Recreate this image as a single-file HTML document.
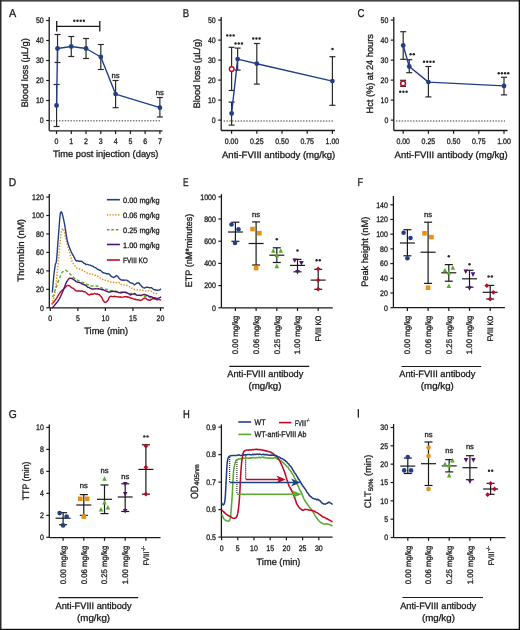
<!DOCTYPE html>
<html><head><meta charset="utf-8"><style>
html,body{margin:0;padding:0;background:#fff;overflow:hidden;width:520px;height:630px;}
svg{display:block;font-family:"Liberation Sans",sans-serif;will-change:transform;}
text{stroke:#1a1a1a;stroke-width:0.3px;text-rendering:geometricPrecision;}
</style></head><body>
<svg width="520" height="630" viewBox="0 0 520 630">
<rect x="0" y="0" width="520" height="630" fill="#ffffff"/>
<text x="12.60" y="16.90" font-size="11.4" text-anchor="middle" fill="#1a1a1a" textLength="7.2" lengthAdjust="spacingAndGlyphs" >A</text>
<line x1="49.20" y1="17.00" x2="49.20" y2="130.80" stroke="#1a1a1a" stroke-width="1.3" />
<line x1="46.20" y1="120.50" x2="49.20" y2="120.50" stroke="#1a1a1a" stroke-width="1.2" />
<text x="43.70" y="123.35" font-size="8.0" text-anchor="end" fill="#1a1a1a" textLength="3.89" lengthAdjust="spacingAndGlyphs" >0</text>
<line x1="46.20" y1="100.50" x2="49.20" y2="100.50" stroke="#1a1a1a" stroke-width="1.2" />
<text x="43.70" y="103.35" font-size="8.0" text-anchor="end" fill="#1a1a1a" textLength="7.78" lengthAdjust="spacingAndGlyphs" >10</text>
<line x1="46.20" y1="80.50" x2="49.20" y2="80.50" stroke="#1a1a1a" stroke-width="1.2" />
<text x="43.70" y="83.35" font-size="8.0" text-anchor="end" fill="#1a1a1a" textLength="7.78" lengthAdjust="spacingAndGlyphs" >20</text>
<line x1="46.20" y1="60.50" x2="49.20" y2="60.50" stroke="#1a1a1a" stroke-width="1.2" />
<text x="43.70" y="63.35" font-size="8.0" text-anchor="end" fill="#1a1a1a" textLength="7.78" lengthAdjust="spacingAndGlyphs" >30</text>
<line x1="46.20" y1="40.50" x2="49.20" y2="40.50" stroke="#1a1a1a" stroke-width="1.2" />
<text x="43.70" y="43.35" font-size="8.0" text-anchor="end" fill="#1a1a1a" textLength="7.78" lengthAdjust="spacingAndGlyphs" >40</text>
<line x1="46.20" y1="20.50" x2="49.20" y2="20.50" stroke="#1a1a1a" stroke-width="1.2" />
<text x="43.70" y="23.35" font-size="8.0" text-anchor="end" fill="#1a1a1a" textLength="7.78" lengthAdjust="spacingAndGlyphs" >50</text>
<line x1="49.20" y1="130.80" x2="162.50" y2="130.80" stroke="#1a1a1a" stroke-width="1.3" />
<line x1="56.50" y1="130.80" x2="56.50" y2="134.00" stroke="#1a1a1a" stroke-width="1.2" />
<text x="56.50" y="144.20" font-size="8.0" text-anchor="middle" fill="#1a1a1a" textLength="3.89" lengthAdjust="spacingAndGlyphs" >0</text>
<line x1="71.27" y1="130.80" x2="71.27" y2="134.00" stroke="#1a1a1a" stroke-width="1.2" />
<text x="71.27" y="144.20" font-size="8.0" text-anchor="middle" fill="#1a1a1a" textLength="3.89" lengthAdjust="spacingAndGlyphs" >1</text>
<line x1="86.04" y1="130.80" x2="86.04" y2="134.00" stroke="#1a1a1a" stroke-width="1.2" />
<text x="86.04" y="144.20" font-size="8.0" text-anchor="middle" fill="#1a1a1a" textLength="3.89" lengthAdjust="spacingAndGlyphs" >2</text>
<line x1="100.81" y1="130.80" x2="100.81" y2="134.00" stroke="#1a1a1a" stroke-width="1.2" />
<text x="100.81" y="144.20" font-size="8.0" text-anchor="middle" fill="#1a1a1a" textLength="3.89" lengthAdjust="spacingAndGlyphs" >3</text>
<line x1="115.58" y1="130.80" x2="115.58" y2="134.00" stroke="#1a1a1a" stroke-width="1.2" />
<text x="115.58" y="144.20" font-size="8.0" text-anchor="middle" fill="#1a1a1a" textLength="3.89" lengthAdjust="spacingAndGlyphs" >4</text>
<line x1="130.35" y1="130.80" x2="130.35" y2="134.00" stroke="#1a1a1a" stroke-width="1.2" />
<text x="130.35" y="144.20" font-size="8.0" text-anchor="middle" fill="#1a1a1a" textLength="3.89" lengthAdjust="spacingAndGlyphs" >5</text>
<line x1="145.12" y1="130.80" x2="145.12" y2="134.00" stroke="#1a1a1a" stroke-width="1.2" />
<text x="145.12" y="144.20" font-size="8.0" text-anchor="middle" fill="#1a1a1a" textLength="3.89" lengthAdjust="spacingAndGlyphs" >6</text>
<line x1="159.89" y1="130.80" x2="159.89" y2="134.00" stroke="#1a1a1a" stroke-width="1.2" />
<text x="159.89" y="144.20" font-size="8.0" text-anchor="middle" fill="#1a1a1a" textLength="3.89" lengthAdjust="spacingAndGlyphs" >7</text>
<line x1="50.60" y1="120.80" x2="161.00" y2="120.80" stroke="#7a7a7a" stroke-width="1.5" stroke-dasharray="1.4 1.44"/>
<line x1="56.57" y1="84.50" x2="56.57" y2="126.50" stroke="#2a2a2a" stroke-width="1.2" />
<line x1="53.57" y1="84.50" x2="59.57" y2="84.50" stroke="#2a2a2a" stroke-width="1.2" />
<line x1="53.57" y1="126.50" x2="59.57" y2="126.50" stroke="#2a2a2a" stroke-width="1.2" />
<line x1="57.53" y1="34.50" x2="57.53" y2="62.50" stroke="#2a2a2a" stroke-width="1.2" />
<line x1="54.53" y1="34.50" x2="60.53" y2="34.50" stroke="#2a2a2a" stroke-width="1.2" />
<line x1="54.53" y1="62.50" x2="60.53" y2="62.50" stroke="#2a2a2a" stroke-width="1.2" />
<line x1="71.27" y1="36.50" x2="71.27" y2="56.50" stroke="#2a2a2a" stroke-width="1.2" />
<line x1="68.27" y1="36.50" x2="74.27" y2="36.50" stroke="#2a2a2a" stroke-width="1.2" />
<line x1="68.27" y1="56.50" x2="74.27" y2="56.50" stroke="#2a2a2a" stroke-width="1.2" />
<line x1="86.04" y1="38.50" x2="86.04" y2="58.50" stroke="#2a2a2a" stroke-width="1.2" />
<line x1="83.04" y1="38.50" x2="89.04" y2="38.50" stroke="#2a2a2a" stroke-width="1.2" />
<line x1="83.04" y1="58.50" x2="89.04" y2="58.50" stroke="#2a2a2a" stroke-width="1.2" />
<line x1="100.81" y1="44.50" x2="100.81" y2="69.50" stroke="#2a2a2a" stroke-width="1.2" />
<line x1="97.81" y1="44.50" x2="103.81" y2="44.50" stroke="#2a2a2a" stroke-width="1.2" />
<line x1="97.81" y1="69.50" x2="103.81" y2="69.50" stroke="#2a2a2a" stroke-width="1.2" />
<line x1="115.58" y1="80.50" x2="115.58" y2="107.70" stroke="#2a2a2a" stroke-width="1.2" />
<line x1="112.58" y1="80.50" x2="118.58" y2="80.50" stroke="#2a2a2a" stroke-width="1.2" />
<line x1="112.58" y1="107.70" x2="118.58" y2="107.70" stroke="#2a2a2a" stroke-width="1.2" />
<line x1="159.89" y1="97.50" x2="159.89" y2="117.00" stroke="#2a2a2a" stroke-width="1.2" />
<line x1="156.89" y1="97.50" x2="162.89" y2="97.50" stroke="#2a2a2a" stroke-width="1.2" />
<line x1="156.89" y1="117.00" x2="162.89" y2="117.00" stroke="#2a2a2a" stroke-width="1.2" />
<polyline points="56.57,105.50 57.53,48.50 71.27,46.50 86.04,48.50 100.81,57.00 115.58,94.10 159.89,107.70" fill="none" stroke="#223f85" stroke-width="1.4" stroke-linejoin="round" />
<circle cx="56.57" cy="105.50" r="2.4" fill="#223f85" stroke="none" stroke-width="0"/>
<circle cx="57.53" cy="48.50" r="2.4" fill="#223f85" stroke="none" stroke-width="0"/>
<circle cx="71.27" cy="46.50" r="2.4" fill="#223f85" stroke="none" stroke-width="0"/>
<circle cx="86.04" cy="48.50" r="2.4" fill="#223f85" stroke="none" stroke-width="0"/>
<circle cx="100.81" cy="57.00" r="2.4" fill="#223f85" stroke="none" stroke-width="0"/>
<circle cx="115.58" cy="94.10" r="2.4" fill="#223f85" stroke="none" stroke-width="0"/>
<circle cx="159.89" cy="107.70" r="2.4" fill="#223f85" stroke="none" stroke-width="0"/>
<line x1="56.70" y1="26.30" x2="99.80" y2="26.30" stroke="#1a1a1a" stroke-width="1.3" />
<line x1="56.70" y1="21.10" x2="56.70" y2="31.50" stroke="#1a1a1a" stroke-width="1.3" />
<line x1="99.80" y1="21.10" x2="99.80" y2="31.50" stroke="#1a1a1a" stroke-width="1.3" />
<circle cx="74.25" cy="20.80" r="1.22" fill="#262626" stroke="none" stroke-width="0"/>
<circle cx="77.45" cy="20.80" r="1.22" fill="#262626" stroke="none" stroke-width="0"/>
<circle cx="80.65" cy="20.80" r="1.22" fill="#262626" stroke="none" stroke-width="0"/>
<circle cx="83.85" cy="20.80" r="1.22" fill="#262626" stroke="none" stroke-width="0"/>
<text x="115.58" y="78.30" font-size="7.6" text-anchor="middle" fill="#1a1a1a" >ns</text>
<text x="159.89" y="95.00" font-size="7.6" text-anchor="middle" fill="#1a1a1a" >ns</text>
<text x="105.70" y="156.80" font-size="9.4" text-anchor="middle" fill="#1a1a1a" textLength="105.5" lengthAdjust="spacingAndGlyphs" >Time post injection (days)</text>
<text x="28.20" y="72.80" font-size="9.4" text-anchor="middle" fill="#1a1a1a" textLength="69" lengthAdjust="spacingAndGlyphs" transform="rotate(-90 28.20 72.80)" >Blood loss (µL/g)</text>
<text x="186.00" y="16.90" font-size="11.4" text-anchor="middle" fill="#1a1a1a" textLength="6.4" lengthAdjust="spacingAndGlyphs" >B</text>
<line x1="221.20" y1="17.00" x2="221.20" y2="130.50" stroke="#1a1a1a" stroke-width="1.3" />
<line x1="218.20" y1="120.10" x2="221.20" y2="120.10" stroke="#1a1a1a" stroke-width="1.2" />
<text x="215.70" y="122.95" font-size="8.0" text-anchor="end" fill="#1a1a1a" textLength="3.89" lengthAdjust="spacingAndGlyphs" >0</text>
<line x1="218.20" y1="100.10" x2="221.20" y2="100.10" stroke="#1a1a1a" stroke-width="1.2" />
<text x="215.70" y="102.95" font-size="8.0" text-anchor="end" fill="#1a1a1a" textLength="7.78" lengthAdjust="spacingAndGlyphs" >10</text>
<line x1="218.20" y1="80.10" x2="221.20" y2="80.10" stroke="#1a1a1a" stroke-width="1.2" />
<text x="215.70" y="82.95" font-size="8.0" text-anchor="end" fill="#1a1a1a" textLength="7.78" lengthAdjust="spacingAndGlyphs" >20</text>
<line x1="218.20" y1="60.10" x2="221.20" y2="60.10" stroke="#1a1a1a" stroke-width="1.2" />
<text x="215.70" y="62.95" font-size="8.0" text-anchor="end" fill="#1a1a1a" textLength="7.78" lengthAdjust="spacingAndGlyphs" >30</text>
<line x1="218.20" y1="40.10" x2="221.20" y2="40.10" stroke="#1a1a1a" stroke-width="1.2" />
<text x="215.70" y="42.95" font-size="8.0" text-anchor="end" fill="#1a1a1a" textLength="7.78" lengthAdjust="spacingAndGlyphs" >40</text>
<line x1="218.20" y1="20.10" x2="221.20" y2="20.10" stroke="#1a1a1a" stroke-width="1.2" />
<text x="215.70" y="22.95" font-size="8.0" text-anchor="end" fill="#1a1a1a" textLength="7.78" lengthAdjust="spacingAndGlyphs" >50</text>
<line x1="221.20" y1="130.50" x2="335.00" y2="130.50" stroke="#1a1a1a" stroke-width="1.3" />
<line x1="231.60" y1="130.50" x2="231.60" y2="133.70" stroke="#1a1a1a" stroke-width="1.2" />
<text x="231.60" y="144.20" font-size="8.0" text-anchor="middle" fill="#1a1a1a" textLength="13.62" lengthAdjust="spacingAndGlyphs" >0.00</text>
<line x1="256.80" y1="130.50" x2="256.80" y2="133.70" stroke="#1a1a1a" stroke-width="1.2" />
<text x="256.80" y="144.20" font-size="8.0" text-anchor="middle" fill="#1a1a1a" textLength="13.62" lengthAdjust="spacingAndGlyphs" >0.25</text>
<line x1="282.00" y1="130.50" x2="282.00" y2="133.70" stroke="#1a1a1a" stroke-width="1.2" />
<text x="282.00" y="144.20" font-size="8.0" text-anchor="middle" fill="#1a1a1a" textLength="13.62" lengthAdjust="spacingAndGlyphs" >0.50</text>
<line x1="307.20" y1="130.50" x2="307.20" y2="133.70" stroke="#1a1a1a" stroke-width="1.2" />
<text x="307.20" y="144.20" font-size="8.0" text-anchor="middle" fill="#1a1a1a" textLength="13.62" lengthAdjust="spacingAndGlyphs" >0.75</text>
<line x1="332.40" y1="130.50" x2="332.40" y2="133.70" stroke="#1a1a1a" stroke-width="1.2" />
<text x="332.40" y="144.20" font-size="8.0" text-anchor="middle" fill="#1a1a1a" textLength="13.62" lengthAdjust="spacingAndGlyphs" >1.00</text>
<line x1="223.60" y1="121.00" x2="333.00" y2="121.00" stroke="#7a7a7a" stroke-width="1.5" stroke-dasharray="1.4 1.44"/>
<line x1="231.60" y1="47.30" x2="231.60" y2="90.50" stroke="#2a2a2a" stroke-width="1.2" />
<line x1="228.60" y1="47.30" x2="234.60" y2="47.30" stroke="#2a2a2a" stroke-width="1.2" />
<line x1="228.60" y1="90.50" x2="234.60" y2="90.50" stroke="#2a2a2a" stroke-width="1.2" />
<line x1="231.60" y1="102.10" x2="231.60" y2="125.10" stroke="#2a2a2a" stroke-width="1.2" />
<line x1="228.60" y1="102.10" x2="234.60" y2="102.10" stroke="#2a2a2a" stroke-width="1.2" />
<line x1="228.60" y1="125.10" x2="234.60" y2="125.10" stroke="#2a2a2a" stroke-width="1.2" />
<line x1="237.65" y1="48.10" x2="237.65" y2="70.10" stroke="#2a2a2a" stroke-width="1.2" />
<line x1="234.65" y1="48.10" x2="240.65" y2="48.10" stroke="#2a2a2a" stroke-width="1.2" />
<line x1="234.65" y1="70.10" x2="240.65" y2="70.10" stroke="#2a2a2a" stroke-width="1.2" />
<line x1="256.80" y1="43.50" x2="256.80" y2="84.10" stroke="#2a2a2a" stroke-width="1.2" />
<line x1="253.80" y1="43.50" x2="259.80" y2="43.50" stroke="#2a2a2a" stroke-width="1.2" />
<line x1="253.80" y1="84.10" x2="259.80" y2="84.10" stroke="#2a2a2a" stroke-width="1.2" />
<line x1="332.40" y1="56.70" x2="332.40" y2="105.30" stroke="#2a2a2a" stroke-width="1.2" />
<line x1="329.40" y1="56.70" x2="335.40" y2="56.70" stroke="#2a2a2a" stroke-width="1.2" />
<line x1="329.40" y1="105.30" x2="335.40" y2="105.30" stroke="#2a2a2a" stroke-width="1.2" />
<polyline points="231.60,113.50 237.65,59.10 256.80,63.70 332.40,81.10" fill="none" stroke="#223f85" stroke-width="1.4" stroke-linejoin="round" />
<circle cx="231.60" cy="113.50" r="2.4" fill="#223f85" stroke="none" stroke-width="0"/>
<circle cx="237.65" cy="59.10" r="2.4" fill="#223f85" stroke="none" stroke-width="0"/>
<circle cx="256.80" cy="63.70" r="2.4" fill="#223f85" stroke="none" stroke-width="0"/>
<circle cx="332.40" cy="81.10" r="2.4" fill="#223f85" stroke="none" stroke-width="0"/>
<circle cx="231.70" cy="69.10" r="2.4" fill="#fff" stroke="#be0a28" stroke-width="1.4"/>
<circle cx="227.25" cy="35.40" r="1.22" fill="#262626" stroke="none" stroke-width="0"/>
<circle cx="230.45" cy="35.40" r="1.22" fill="#262626" stroke="none" stroke-width="0"/>
<circle cx="233.65" cy="35.40" r="1.22" fill="#262626" stroke="none" stroke-width="0"/>
<circle cx="235.55" cy="43.50" r="1.22" fill="#262626" stroke="none" stroke-width="0"/>
<circle cx="238.75" cy="43.50" r="1.22" fill="#262626" stroke="none" stroke-width="0"/>
<circle cx="241.95" cy="43.50" r="1.22" fill="#262626" stroke="none" stroke-width="0"/>
<circle cx="253.25" cy="38.50" r="1.22" fill="#262626" stroke="none" stroke-width="0"/>
<circle cx="256.45" cy="38.50" r="1.22" fill="#262626" stroke="none" stroke-width="0"/>
<circle cx="259.65" cy="38.50" r="1.22" fill="#262626" stroke="none" stroke-width="0"/>
<circle cx="332.50" cy="49.00" r="1.22" fill="#262626" stroke="none" stroke-width="0"/>
<text x="278.60" y="157.60" font-size="9.4" text-anchor="middle" fill="#1a1a1a" textLength="113.2" lengthAdjust="spacingAndGlyphs" >Anti-FVIII antibody (mg/kg)</text>
<text x="200.20" y="73.60" font-size="9.4" text-anchor="middle" fill="#1a1a1a" textLength="69.5" lengthAdjust="spacingAndGlyphs" transform="rotate(-90 200.20 73.60)" >Blood loss (µL/g)</text>
<text x="361.10" y="16.90" font-size="11.4" text-anchor="middle" fill="#1a1a1a" textLength="7.0" lengthAdjust="spacingAndGlyphs" >C</text>
<line x1="393.80" y1="17.00" x2="393.80" y2="130.50" stroke="#1a1a1a" stroke-width="1.3" />
<line x1="390.80" y1="120.10" x2="393.80" y2="120.10" stroke="#1a1a1a" stroke-width="1.2" />
<text x="388.30" y="122.95" font-size="8.0" text-anchor="end" fill="#1a1a1a" textLength="3.89" lengthAdjust="spacingAndGlyphs" >0</text>
<line x1="390.80" y1="100.10" x2="393.80" y2="100.10" stroke="#1a1a1a" stroke-width="1.2" />
<text x="388.30" y="102.95" font-size="8.0" text-anchor="end" fill="#1a1a1a" textLength="7.78" lengthAdjust="spacingAndGlyphs" >10</text>
<line x1="390.80" y1="80.10" x2="393.80" y2="80.10" stroke="#1a1a1a" stroke-width="1.2" />
<text x="388.30" y="82.95" font-size="8.0" text-anchor="end" fill="#1a1a1a" textLength="7.78" lengthAdjust="spacingAndGlyphs" >20</text>
<line x1="390.80" y1="60.10" x2="393.80" y2="60.10" stroke="#1a1a1a" stroke-width="1.2" />
<text x="388.30" y="62.95" font-size="8.0" text-anchor="end" fill="#1a1a1a" textLength="7.78" lengthAdjust="spacingAndGlyphs" >30</text>
<line x1="390.80" y1="40.10" x2="393.80" y2="40.10" stroke="#1a1a1a" stroke-width="1.2" />
<text x="388.30" y="42.95" font-size="8.0" text-anchor="end" fill="#1a1a1a" textLength="7.78" lengthAdjust="spacingAndGlyphs" >40</text>
<line x1="390.80" y1="20.10" x2="393.80" y2="20.10" stroke="#1a1a1a" stroke-width="1.2" />
<text x="388.30" y="22.95" font-size="8.0" text-anchor="end" fill="#1a1a1a" textLength="7.78" lengthAdjust="spacingAndGlyphs" >50</text>
<line x1="393.80" y1="130.50" x2="507.60" y2="130.50" stroke="#1a1a1a" stroke-width="1.3" />
<line x1="403.20" y1="130.50" x2="403.20" y2="133.70" stroke="#1a1a1a" stroke-width="1.2" />
<text x="403.20" y="144.20" font-size="8.0" text-anchor="middle" fill="#1a1a1a" textLength="13.62" lengthAdjust="spacingAndGlyphs" >0.00</text>
<line x1="428.40" y1="130.50" x2="428.40" y2="133.70" stroke="#1a1a1a" stroke-width="1.2" />
<text x="428.40" y="144.20" font-size="8.0" text-anchor="middle" fill="#1a1a1a" textLength="13.62" lengthAdjust="spacingAndGlyphs" >0.25</text>
<line x1="453.60" y1="130.50" x2="453.60" y2="133.70" stroke="#1a1a1a" stroke-width="1.2" />
<text x="453.60" y="144.20" font-size="8.0" text-anchor="middle" fill="#1a1a1a" textLength="13.62" lengthAdjust="spacingAndGlyphs" >0.50</text>
<line x1="478.80" y1="130.50" x2="478.80" y2="133.70" stroke="#1a1a1a" stroke-width="1.2" />
<text x="478.80" y="144.20" font-size="8.0" text-anchor="middle" fill="#1a1a1a" textLength="13.62" lengthAdjust="spacingAndGlyphs" >0.75</text>
<line x1="504.00" y1="130.50" x2="504.00" y2="133.70" stroke="#1a1a1a" stroke-width="1.2" />
<text x="504.00" y="144.20" font-size="8.0" text-anchor="middle" fill="#1a1a1a" textLength="13.62" lengthAdjust="spacingAndGlyphs" >1.00</text>
<line x1="396.00" y1="121.00" x2="505.00" y2="121.00" stroke="#7a7a7a" stroke-width="1.5" stroke-dasharray="1.4 1.44"/>
<line x1="403.20" y1="31.70" x2="403.20" y2="59.30" stroke="#2a2a2a" stroke-width="1.2" />
<line x1="400.20" y1="31.70" x2="406.20" y2="31.70" stroke="#2a2a2a" stroke-width="1.2" />
<line x1="400.20" y1="59.30" x2="406.20" y2="59.30" stroke="#2a2a2a" stroke-width="1.2" />
<line x1="409.25" y1="59.70" x2="409.25" y2="72.70" stroke="#2a2a2a" stroke-width="1.2" />
<line x1="406.25" y1="59.70" x2="412.25" y2="59.70" stroke="#2a2a2a" stroke-width="1.2" />
<line x1="406.25" y1="72.70" x2="412.25" y2="72.70" stroke="#2a2a2a" stroke-width="1.2" />
<line x1="428.40" y1="66.50" x2="428.40" y2="96.90" stroke="#2a2a2a" stroke-width="1.2" />
<line x1="425.40" y1="66.50" x2="431.40" y2="66.50" stroke="#2a2a2a" stroke-width="1.2" />
<line x1="425.40" y1="96.90" x2="431.40" y2="96.90" stroke="#2a2a2a" stroke-width="1.2" />
<line x1="504.00" y1="77.30" x2="504.00" y2="94.90" stroke="#2a2a2a" stroke-width="1.2" />
<line x1="501.00" y1="77.30" x2="507.00" y2="77.30" stroke="#2a2a2a" stroke-width="1.2" />
<line x1="501.00" y1="94.90" x2="507.00" y2="94.90" stroke="#2a2a2a" stroke-width="1.2" />
<polyline points="403.20,45.50 409.25,66.50 428.40,82.10 504.00,85.90" fill="none" stroke="#223f85" stroke-width="1.4" stroke-linejoin="round" />
<circle cx="403.20" cy="45.50" r="2.4" fill="#223f85" stroke="none" stroke-width="0"/>
<circle cx="409.25" cy="66.50" r="2.4" fill="#223f85" stroke="none" stroke-width="0"/>
<circle cx="428.40" cy="82.10" r="2.4" fill="#223f85" stroke="none" stroke-width="0"/>
<circle cx="504.00" cy="85.90" r="2.4" fill="#223f85" stroke="none" stroke-width="0"/>
<line x1="403.10" y1="80.30" x2="403.10" y2="86.40" stroke="#2a2a2a" stroke-width="1.2" />
<line x1="400.10" y1="80.30" x2="406.10" y2="80.30" stroke="#2a2a2a" stroke-width="1.2" />
<line x1="400.10" y1="86.40" x2="406.10" y2="86.40" stroke="#2a2a2a" stroke-width="1.2" />
<circle cx="403.10" cy="83.40" r="2.4" fill="#fff" stroke="#be0a28" stroke-width="1.5"/>
<circle cx="410.60" cy="54.25" r="1.22" fill="#262626" stroke="none" stroke-width="0"/>
<circle cx="413.80" cy="54.25" r="1.22" fill="#262626" stroke="none" stroke-width="0"/>
<circle cx="424.05" cy="61.75" r="1.22" fill="#262626" stroke="none" stroke-width="0"/>
<circle cx="427.25" cy="61.75" r="1.22" fill="#262626" stroke="none" stroke-width="0"/>
<circle cx="430.45" cy="61.75" r="1.22" fill="#262626" stroke="none" stroke-width="0"/>
<circle cx="433.65" cy="61.75" r="1.22" fill="#262626" stroke="none" stroke-width="0"/>
<circle cx="498.70" cy="73.30" r="1.22" fill="#262626" stroke="none" stroke-width="0"/>
<circle cx="501.90" cy="73.30" r="1.22" fill="#262626" stroke="none" stroke-width="0"/>
<circle cx="505.10" cy="73.30" r="1.22" fill="#262626" stroke="none" stroke-width="0"/>
<circle cx="508.30" cy="73.30" r="1.22" fill="#262626" stroke="none" stroke-width="0"/>
<circle cx="400.20" cy="91.75" r="1.22" fill="#262626" stroke="none" stroke-width="0"/>
<circle cx="403.40" cy="91.75" r="1.22" fill="#262626" stroke="none" stroke-width="0"/>
<circle cx="406.60" cy="91.75" r="1.22" fill="#262626" stroke="none" stroke-width="0"/>
<text x="451.20" y="157.60" font-size="9.4" text-anchor="middle" fill="#1a1a1a" textLength="113.2" lengthAdjust="spacingAndGlyphs" >Anti-FVIII antibody (mg/kg)</text>
<text x="373.20" y="73.80" font-size="9.4" text-anchor="middle" fill="#1a1a1a" textLength="79.2" lengthAdjust="spacingAndGlyphs" transform="rotate(-90 373.20 73.80)" >Hct (%) at 24 hours</text>
<text x="12.50" y="186.00" font-size="11.4" text-anchor="middle" fill="#1a1a1a" textLength="7.4" lengthAdjust="spacingAndGlyphs" >D</text>
<line x1="49.30" y1="194.10" x2="49.30" y2="307.80" stroke="#1a1a1a" stroke-width="1.3" />
<line x1="46.30" y1="307.80" x2="49.30" y2="307.80" stroke="#1a1a1a" stroke-width="1.2" />
<text x="43.80" y="310.65" font-size="8.0" text-anchor="end" fill="#1a1a1a" textLength="3.89" lengthAdjust="spacingAndGlyphs" >0</text>
<line x1="46.30" y1="289.34" x2="49.30" y2="289.34" stroke="#1a1a1a" stroke-width="1.2" />
<text x="43.80" y="292.19" font-size="8.0" text-anchor="end" fill="#1a1a1a" textLength="7.78" lengthAdjust="spacingAndGlyphs" >20</text>
<line x1="46.30" y1="270.88" x2="49.30" y2="270.88" stroke="#1a1a1a" stroke-width="1.2" />
<text x="43.80" y="273.73" font-size="8.0" text-anchor="end" fill="#1a1a1a" textLength="7.78" lengthAdjust="spacingAndGlyphs" >40</text>
<line x1="46.30" y1="252.42" x2="49.30" y2="252.42" stroke="#1a1a1a" stroke-width="1.2" />
<text x="43.80" y="255.27" font-size="8.0" text-anchor="end" fill="#1a1a1a" textLength="7.78" lengthAdjust="spacingAndGlyphs" >60</text>
<line x1="46.30" y1="233.96" x2="49.30" y2="233.96" stroke="#1a1a1a" stroke-width="1.2" />
<text x="43.80" y="236.81" font-size="8.0" text-anchor="end" fill="#1a1a1a" textLength="7.78" lengthAdjust="spacingAndGlyphs" >80</text>
<line x1="46.30" y1="215.50" x2="49.30" y2="215.50" stroke="#1a1a1a" stroke-width="1.2" />
<text x="43.80" y="218.35" font-size="8.0" text-anchor="end" fill="#1a1a1a" textLength="11.68" lengthAdjust="spacingAndGlyphs" >100</text>
<line x1="46.30" y1="197.04" x2="49.30" y2="197.04" stroke="#1a1a1a" stroke-width="1.2" />
<text x="43.80" y="199.89" font-size="8.0" text-anchor="end" fill="#1a1a1a" textLength="11.68" lengthAdjust="spacingAndGlyphs" >120</text>
<line x1="49.30" y1="307.80" x2="163.90" y2="307.80" stroke="#1a1a1a" stroke-width="1.3" />
<line x1="50.30" y1="307.80" x2="50.30" y2="311.00" stroke="#1a1a1a" stroke-width="1.2" />
<text x="50.30" y="321.20" font-size="8.0" text-anchor="middle" fill="#1a1a1a" textLength="3.89" lengthAdjust="spacingAndGlyphs" >0</text>
<line x1="77.85" y1="307.80" x2="77.85" y2="311.00" stroke="#1a1a1a" stroke-width="1.2" />
<text x="77.85" y="321.20" font-size="8.0" text-anchor="middle" fill="#1a1a1a" textLength="3.89" lengthAdjust="spacingAndGlyphs" >5</text>
<line x1="105.40" y1="307.80" x2="105.40" y2="311.00" stroke="#1a1a1a" stroke-width="1.2" />
<text x="105.40" y="321.20" font-size="8.0" text-anchor="middle" fill="#1a1a1a" textLength="7.78" lengthAdjust="spacingAndGlyphs" >10</text>
<line x1="132.95" y1="307.80" x2="132.95" y2="311.00" stroke="#1a1a1a" stroke-width="1.2" />
<text x="132.95" y="321.20" font-size="8.0" text-anchor="middle" fill="#1a1a1a" textLength="7.78" lengthAdjust="spacingAndGlyphs" >15</text>
<line x1="160.50" y1="307.80" x2="160.50" y2="311.00" stroke="#1a1a1a" stroke-width="1.2" />
<text x="160.50" y="321.20" font-size="8.0" text-anchor="middle" fill="#1a1a1a" textLength="7.78" lengthAdjust="spacingAndGlyphs" >20</text>
<text x="106.20" y="334.20" font-size="9.4" text-anchor="middle" fill="#1a1a1a" textLength="43.8" lengthAdjust="spacingAndGlyphs" >Time (min)</text>
<text x="24.50" y="250.40" font-size="9.4" text-anchor="middle" fill="#1a1a1a" textLength="62.9" lengthAdjust="spacingAndGlyphs" transform="rotate(-90 24.50 250.40)" >Thrombin (nM)</text>
<polyline points="52.60,297.30 52.81,296.70 53.11,295.87 53.46,294.89 53.84,293.83 54.23,292.74 54.60,291.70 54.90,290.86 55.21,290.02 55.52,289.17 55.84,288.30 56.17,287.40 56.52,286.43 56.90,285.40 57.19,284.61 57.50,283.75 57.82,282.84 58.15,281.91 58.49,280.96 58.83,280.01 59.17,279.10 59.50,278.23 59.81,277.42 60.10,276.70 60.62,275.44 61.08,274.35 61.52,273.40 61.98,272.59 62.50,271.90 63.48,270.95 64.55,270.36 65.70,270.30 66.43,270.62 67.20,271.20 68.00,271.93 68.80,272.73 69.60,273.50 70.25,274.13 70.90,274.81 71.54,275.51 72.20,276.20 72.89,276.88 73.60,277.50 74.33,278.07 75.07,278.59 75.84,279.17 76.64,279.88 77.49,280.10 78.40,280.60 79.26,281.06 80.18,281.22 81.15,281.81 82.14,282.26 83.13,282.74 84.09,282.69 85.00,283.18 86.00,283.49 86.97,284.38 87.91,284.75 88.83,284.78 89.76,285.70 90.70,285.98 91.63,285.96 92.53,286.01 93.43,285.74 94.36,285.67 95.34,286.05 96.40,285.94 97.25,286.22 98.12,286.51 99.02,286.68 99.96,287.26 100.92,287.58 101.91,288.16 102.94,288.30 104.00,288.68 104.87,288.84 105.76,289.19 106.68,289.33 107.61,289.47 108.56,290.16 109.53,290.41 110.52,290.56 111.53,290.71 112.56,290.69 113.60,290.84 114.49,291.02 115.41,291.03 116.36,291.56 117.32,291.46 118.29,291.83 119.27,291.65 120.26,292.09 121.24,292.13 122.21,291.72 123.16,291.96 124.09,292.51 125.00,292.38 125.96,292.85 126.91,292.68 127.83,292.67 128.75,293.20 129.65,293.49 130.55,293.38 131.44,293.47 132.33,293.82 133.21,294.40 134.10,294.47 135.00,294.27 135.89,294.53 136.75,294.62 137.61,294.76 138.46,295.38 139.30,295.17 140.16,295.57 141.03,295.67 141.92,295.69 142.84,296.18 143.80,296.00 144.80,296.49 145.65,296.32 146.57,296.66 147.56,296.70 148.59,296.91 149.64,297.50 150.71,297.58 151.76,297.45 152.79,297.97 153.78,297.72 154.71,297.98 155.57,298.40 156.33,298.39 156.98,298.17 157.50,298.79" fill="none" stroke="#5aaa32" stroke-width="1.4" stroke-linejoin="round" stroke-dasharray="3.0 2.1"/>
<polyline points="51.80,304.40 52.19,303.91 52.72,303.26 53.36,302.47 54.05,301.61 54.77,300.70 55.46,299.78 56.10,298.90 56.61,298.13 57.12,297.30 57.62,296.46 58.12,295.60 58.61,294.76 59.11,293.95 59.60,293.19 60.10,292.50 60.77,291.70 61.44,290.99 62.11,290.35 62.77,289.76 63.44,289.18 64.10,288.60 64.88,287.83 65.66,287.00 66.44,286.24 67.22,285.67 68.00,285.40 68.79,285.52 69.59,285.94 70.40,286.52 71.20,287.32 72.00,287.92 72.81,288.12 73.63,288.66 74.44,289.55 75.24,290.03 76.00,290.82 77.10,291.03 78.13,290.99 79.40,291.04 80.23,291.21 81.17,290.94 82.18,291.25 83.19,291.20 84.15,291.91 85.00,291.59 85.86,292.64 86.60,292.81 87.29,293.96 88.00,294.32 88.80,294.73 89.71,295.07 90.70,294.29 91.70,293.99 92.69,294.28 93.60,293.81 94.62,293.42 95.56,294.01 96.47,294.06 97.40,293.73 98.19,294.32 99.02,294.62 99.82,295.33 100.57,296.17 101.20,296.46 101.79,297.64 102.21,298.05 102.58,298.99 103.00,300.22 103.62,300.96 104.26,301.90 105.00,302.47 105.94,302.14 106.97,301.35 107.90,300.17 108.34,299.75 108.62,298.81 109.02,297.76 109.80,296.81 110.50,296.40 111.37,296.31 112.35,296.54 113.39,296.59 114.45,296.28 115.47,296.46 116.40,296.60 117.40,296.77 118.36,297.08 119.29,296.98 120.21,296.75 121.11,297.39 122.00,297.15 123.03,297.15 124.00,296.78 124.97,296.76 125.99,296.64 127.10,296.99 127.97,296.72 128.89,297.33 129.85,297.43 130.84,298.19 131.83,298.13 132.82,298.65 133.80,298.99 134.79,299.44 135.81,299.28 136.84,299.79 137.86,299.81 138.84,300.00 139.76,300.20 140.60,300.52 141.60,299.90 142.46,299.71 143.24,298.56 144.00,298.60 144.80,298.00 145.64,298.09 146.48,298.97 147.32,299.69 148.19,299.59 149.10,300.04 150.03,300.31 150.96,299.69 151.94,299.22 152.97,298.70 154.10,298.58 155.04,299.04 156.11,299.46 157.25,299.69 158.37,299.60 159.40,299.51 160.27,299.94 160.90,300.40" fill="none" stroke="#be0a28" stroke-width="1.4" stroke-linejoin="round" />
<polyline points="52.20,308.00 52.61,307.54 53.17,306.91 53.85,306.15 54.57,305.30 55.30,304.40 55.82,303.74 56.38,303.06 56.95,302.34 57.54,301.58 58.13,300.76 58.72,299.87 59.30,298.90 59.70,298.16 60.11,297.35 60.53,296.50 60.94,295.62 61.35,294.71 61.76,293.78 62.16,292.86 62.55,291.95 62.93,291.06 63.30,290.20 63.69,289.26 64.07,288.30 64.43,287.33 64.78,286.37 65.13,285.44 65.47,284.54 65.81,283.69 66.15,282.91 66.50,282.20 67.12,281.08 67.74,280.12 68.36,279.33 68.98,278.72 69.60,278.30 70.66,278.13 71.73,278.47 72.80,279.00 73.60,279.51 74.41,280.17 75.21,280.68 76.00,281.53 76.90,281.97 77.79,282.39 79.00,282.38 79.70,282.70 80.50,282.97 81.38,283.38 82.29,284.12 83.22,284.10 84.13,284.80 85.00,285.00 85.83,285.53 86.65,286.16 87.46,287.02 88.27,287.41 89.08,287.51 89.89,288.13 90.70,288.35 91.65,289.05 92.60,289.04 93.55,288.97 94.50,288.89 95.45,288.76 96.40,288.91 97.35,288.89 98.30,288.61 99.24,289.16 100.19,289.06 101.14,289.44 102.10,289.54 103.06,289.77 104.03,290.13 105.00,290.63 105.97,290.97 106.94,291.20 107.90,291.92 108.85,291.98 109.77,292.06 110.70,291.73 111.64,291.50 112.60,291.55 113.60,291.14 114.54,291.66 115.56,291.71 116.62,291.79 117.66,292.08 118.64,292.57 119.50,292.59 120.20,292.87 121.30,292.94 122.00,292.53 122.95,292.14 124.08,292.19 125.40,292.11 126.17,292.40 127.04,292.81 127.96,293.45 128.87,293.75 129.73,294.57 130.50,295.02 131.67,294.44 132.63,294.11 133.80,294.00 134.55,293.55 135.37,293.95 136.24,294.81 137.13,295.24 138.03,295.43 138.90,295.26 139.91,295.37 140.90,295.42 141.90,295.10 142.93,294.77 144.00,294.29 144.92,294.89 145.84,294.82 146.79,295.41 147.78,295.39 148.81,296.37 149.90,296.47 150.80,296.83 151.78,296.80 152.81,297.42 153.86,297.73 154.88,298.05 155.86,298.14 156.74,298.58 157.50,298.39 158.72,298.16 159.68,297.55 160.39,297.32 160.90,296.53" fill="none" stroke="#501470" stroke-width="1.4" stroke-linejoin="round" />
<polyline points="51.80,304.40 51.97,303.82 52.21,303.04 52.50,302.10 52.81,301.06 53.11,299.98 53.40,298.90 53.60,298.09 53.81,297.24 54.02,296.36 54.23,295.45 54.44,294.53 54.64,293.59 54.82,292.65 55.00,291.70 55.16,290.75 55.32,289.77 55.46,288.79 55.60,287.79 55.73,286.79 55.86,285.79 55.98,284.79 56.10,283.80 56.21,282.81 56.32,281.83 56.42,280.84 56.52,279.86 56.61,278.87 56.71,277.88 56.80,276.89 56.90,275.90 57.00,274.90 57.10,273.90 57.20,272.90 57.30,271.90 57.40,270.90 57.50,269.90 57.60,268.90 57.70,267.90 57.80,266.96 57.89,266.08 57.98,265.24 58.07,264.39 58.16,263.48 58.26,262.47 58.38,261.33 58.50,260.00 58.57,259.25 58.64,258.44 58.71,257.58 58.79,256.68 58.87,255.74 58.95,254.76 59.03,253.77 59.11,252.76 59.20,251.74 59.28,250.72 59.37,249.70 59.46,248.71 59.54,247.73 59.63,246.78 59.72,245.87 59.80,245.00 59.90,243.96 60.01,242.91 60.11,241.87 60.22,240.84 60.32,239.82 60.43,238.83 60.53,237.86 60.64,236.93 60.75,236.04 60.86,235.20 60.97,234.40 61.09,233.67 61.20,233.00 61.51,231.48 61.82,230.23 62.14,229.29 62.47,228.70 62.80,228.50 63.12,228.72 63.42,229.35 63.74,230.32 64.09,231.56 64.50,233.00 64.69,233.67 64.88,234.40 65.09,235.19 65.30,236.03 65.51,236.91 65.74,237.83 65.97,238.78 66.20,239.75 66.45,240.73 66.69,241.72 66.94,242.72 67.20,243.70 67.43,244.57 67.68,245.49 67.94,246.45 68.21,247.44 68.48,248.45 68.76,249.46 69.04,250.47 69.31,251.47 69.58,252.44 69.84,253.37 70.08,254.26 70.31,255.08 70.52,255.83 70.70,256.50 71.07,257.95 71.29,258.94 71.45,259.68 71.65,260.36 72.00,261.20 72.43,262.06 72.96,262.99 73.53,263.92 74.12,264.81 74.69,265.62 75.20,266.10 75.95,267.29 76.61,267.81 77.60,268.52 78.32,268.53 79.16,268.87 80.08,269.47 81.04,269.79 81.99,270.00 82.90,270.59 83.75,270.90 84.56,271.58 85.38,271.75 86.20,272.30 87.07,273.10 88.00,273.23 88.83,273.43 89.67,273.87 90.53,273.91 91.43,273.79 92.38,274.17 93.40,274.48 94.50,274.63 95.19,275.19 95.91,275.30 96.66,275.82 97.44,276.15 98.24,276.70 99.06,277.58 99.88,277.80 100.71,278.58 101.55,278.78 102.38,279.31 103.20,279.84 104.00,280.09 104.97,280.17 105.98,280.73 107.00,281.05 108.02,281.09 109.04,281.29 110.04,281.90 111.00,281.91 111.93,281.93 112.80,282.23 113.60,282.26 114.81,282.72 115.90,282.65 116.88,282.47 117.77,282.84 118.57,282.54 119.30,282.79 120.33,283.31 121.03,284.49 122.00,284.81 122.85,285.15 123.83,284.93 124.89,285.10 125.99,285.25 127.10,285.42 127.90,285.73 128.73,286.21 129.57,286.73 130.43,287.39 131.29,287.70 132.15,288.39 133.00,288.67 133.99,289.32 135.00,289.61 136.00,289.36 136.99,289.55 137.96,289.97 138.90,290.04 139.94,289.90 140.92,290.34 141.88,290.53 142.88,290.35 144.00,290.42 144.91,290.62 145.92,290.89 146.98,290.64 148.04,290.75 149.06,290.81 150.00,291.18 150.80,291.28 151.87,291.66 152.66,292.34 153.35,292.76 154.10,293.31 155.35,293.80 156.61,293.52 157.50,293.29" fill="none" stroke="#e8920f" stroke-width="1.5" stroke-linejoin="round" stroke-dasharray="1.4 1.5"/>
<polyline points="52.30,292.50 52.35,291.98 52.40,291.35 52.46,290.63 52.53,289.82 52.61,288.94 52.69,287.99 52.77,287.00 52.86,285.96 52.96,284.89 53.05,283.81 53.15,282.72 53.24,281.64 53.34,280.58 53.44,279.54 53.53,278.54 53.63,277.59 53.71,276.71 53.80,275.90 53.93,274.76 54.05,273.66 54.18,272.59 54.31,271.56 54.44,270.57 54.57,269.61 54.70,268.70 54.82,267.83 54.95,267.00 55.07,266.22 55.19,265.49 55.30,264.80 55.55,263.76 55.76,263.40 55.98,263.07 56.21,262.15 56.50,260.00 56.56,259.42 56.62,258.77 56.69,258.08 56.76,257.33 56.83,256.53 56.90,255.69 56.97,254.81 57.05,253.89 57.13,252.94 57.20,251.96 57.28,250.96 57.36,249.95 57.44,248.91 57.52,247.86 57.60,246.81 57.68,245.75 57.76,244.69 57.84,243.64 57.92,242.59 58.00,241.56 58.07,240.54 58.15,239.54 58.22,238.57 58.30,237.63 58.37,236.71 58.43,235.84 58.50,235.00 58.58,233.95 58.66,232.90 58.74,231.84 58.82,230.79 58.90,229.74 58.98,228.70 59.05,227.67 59.13,226.65 59.20,225.66 59.27,224.68 59.34,223.72 59.41,222.79 59.48,221.88 59.55,221.01 59.62,220.17 59.68,219.36 59.75,218.60 59.81,217.88 59.87,217.20 59.94,216.58 60.00,216.00 60.30,213.78 60.57,212.63 60.83,212.14 61.10,211.90 61.62,212.04 62.30,214.00 62.47,214.61 62.65,215.31 62.84,216.09 63.04,216.94 63.25,217.86 63.47,218.84 63.70,219.87 63.92,220.95 64.15,222.07 64.38,223.22 64.60,224.40 64.74,225.20 64.89,226.04 65.03,226.93 65.17,227.86 65.32,228.82 65.46,229.80 65.60,230.79 65.75,231.80 65.90,232.80 66.05,233.81 66.20,234.80 66.36,235.78 66.52,236.74 66.68,237.67 66.85,238.56 67.02,239.40 67.20,240.20 67.46,241.27 67.74,242.30 68.03,243.30 68.33,244.25 68.63,245.17 68.94,246.05 69.25,246.89 69.55,247.70 69.85,248.48 70.15,249.22 70.43,249.93 70.70,250.60 71.21,251.80 71.70,252.81 72.17,254.06 72.62,254.08 73.06,255.42 73.50,255.73 73.99,257.36 74.44,257.54 74.88,259.12 75.36,259.74 75.90,260.49 76.70,261.06 77.58,260.65 78.50,260.82 79.40,261.27 80.31,261.13 81.24,261.30 82.12,261.49 82.90,262.29 83.60,262.85 84.15,263.43 85.00,263.58 85.79,264.44 86.73,264.37 87.76,264.41 88.80,264.86 89.80,265.14 90.74,265.20 91.68,265.93 92.62,266.13 93.56,266.70 94.50,267.44 95.30,267.64 96.10,267.92 96.90,268.78 97.70,269.39 98.50,269.50 99.30,270.36 100.09,270.12 100.87,270.73 101.65,271.28 102.43,272.39 103.21,272.66 104.00,273.08 104.95,273.07 105.91,273.47 106.88,273.98 107.84,273.60 108.80,273.99 109.62,274.44 110.47,275.43 111.32,276.43 112.15,276.86 112.92,277.25 113.60,277.60 114.67,276.92 115.52,276.54 116.40,275.58 117.17,275.88 117.97,276.72 118.76,278.02 119.50,278.35 120.34,279.58 121.12,279.77 122.00,280.25 123.00,279.88 124.11,280.23 125.40,280.14 126.16,280.13 127.01,280.23 127.90,280.99 128.80,281.39 129.68,282.24 130.50,282.74 131.41,283.10 132.28,283.28 133.12,283.59 133.93,284.64 134.70,284.86 135.57,283.92 136.34,283.49 137.15,282.85 138.10,283.18 138.75,282.81 139.46,283.46 140.21,284.89 140.99,285.53 141.76,286.28 142.50,287.24 143.20,287.57 144.31,287.98 145.36,287.57 146.37,287.25 147.40,287.11 148.49,287.41 149.61,287.71 150.67,287.60 151.60,287.78 152.53,288.51 153.26,289.25 154.10,289.68 155.17,289.72 156.33,290.26 157.50,290.24 158.76,290.11 160.02,289.77 160.90,288.81" fill="none" stroke="#223f85" stroke-width="1.4" stroke-linejoin="round" />
<line x1="106.90" y1="199.70" x2="119.90" y2="199.70" stroke="#223f85" stroke-width="1.6" />
<text x="123.10" y="202.80" font-size="7.8" text-anchor="start" fill="#1a1a1a" textLength="36.4" lengthAdjust="spacingAndGlyphs" >0.00 mg/kg</text>
<line x1="106.90" y1="214.90" x2="119.90" y2="214.90" stroke="#e8920f" stroke-width="1.6" stroke-dasharray="1.2 1.6"/>
<text x="123.10" y="218.00" font-size="7.8" text-anchor="start" fill="#1a1a1a" textLength="36.4" lengthAdjust="spacingAndGlyphs" >0.06 mg/kg</text>
<line x1="106.90" y1="229.80" x2="119.90" y2="229.80" stroke="#5aaa32" stroke-width="1.6" stroke-dasharray="2.6 1.8"/>
<text x="123.10" y="232.90" font-size="7.8" text-anchor="start" fill="#1a1a1a" textLength="36.4" lengthAdjust="spacingAndGlyphs" >0.25 mg/kg</text>
<line x1="106.90" y1="244.50" x2="119.90" y2="244.50" stroke="#501470" stroke-width="1.6" />
<text x="123.10" y="247.60" font-size="7.8" text-anchor="start" fill="#1a1a1a" textLength="36.4" lengthAdjust="spacingAndGlyphs" >1.00 mg/kg</text>
<line x1="106.90" y1="260.00" x2="119.90" y2="260.00" stroke="#be0a28" stroke-width="1.6" />
<text x="123.10" y="263.10" font-size="7.8" text-anchor="start" fill="#1a1a1a" textLength="24.8" lengthAdjust="spacingAndGlyphs" >FVIII KO</text>
<text x="183.00" y="185.90" font-size="11.4" text-anchor="start" fill="#1a1a1a" textLength="5.6" lengthAdjust="spacingAndGlyphs" >E</text>
<line x1="221.40" y1="194.20" x2="221.40" y2="307.80" stroke="#1a1a1a" stroke-width="1.3" />
<line x1="218.40" y1="307.80" x2="221.40" y2="307.80" stroke="#1a1a1a" stroke-width="1.2" />
<text x="215.90" y="310.65" font-size="8.0" text-anchor="end" fill="#1a1a1a" textLength="3.89" lengthAdjust="spacingAndGlyphs" >0</text>
<line x1="218.40" y1="285.60" x2="221.40" y2="285.60" stroke="#1a1a1a" stroke-width="1.2" />
<text x="215.90" y="288.45" font-size="8.0" text-anchor="end" fill="#1a1a1a" textLength="11.68" lengthAdjust="spacingAndGlyphs" >200</text>
<line x1="218.40" y1="263.40" x2="221.40" y2="263.40" stroke="#1a1a1a" stroke-width="1.2" />
<text x="215.90" y="266.25" font-size="8.0" text-anchor="end" fill="#1a1a1a" textLength="11.68" lengthAdjust="spacingAndGlyphs" >400</text>
<line x1="218.40" y1="241.20" x2="221.40" y2="241.20" stroke="#1a1a1a" stroke-width="1.2" />
<text x="215.90" y="244.05" font-size="8.0" text-anchor="end" fill="#1a1a1a" textLength="11.68" lengthAdjust="spacingAndGlyphs" >600</text>
<line x1="218.40" y1="219.00" x2="221.40" y2="219.00" stroke="#1a1a1a" stroke-width="1.2" />
<text x="215.90" y="221.85" font-size="8.0" text-anchor="end" fill="#1a1a1a" textLength="11.68" lengthAdjust="spacingAndGlyphs" >800</text>
<line x1="218.40" y1="196.80" x2="221.40" y2="196.80" stroke="#1a1a1a" stroke-width="1.2" />
<text x="215.90" y="199.65" font-size="8.0" text-anchor="end" fill="#1a1a1a" textLength="15.57" lengthAdjust="spacingAndGlyphs" >1000</text>
<line x1="221.40" y1="307.80" x2="332.80" y2="307.80" stroke="#1a1a1a" stroke-width="1.3" />
<line x1="235.40" y1="307.80" x2="235.40" y2="311.00" stroke="#1a1a1a" stroke-width="1.2" />
<line x1="256.10" y1="307.80" x2="256.10" y2="311.00" stroke="#1a1a1a" stroke-width="1.2" />
<line x1="276.80" y1="307.80" x2="276.80" y2="311.00" stroke="#1a1a1a" stroke-width="1.2" />
<line x1="297.50" y1="307.80" x2="297.50" y2="311.00" stroke="#1a1a1a" stroke-width="1.2" />
<line x1="318.20" y1="307.80" x2="318.20" y2="311.00" stroke="#1a1a1a" stroke-width="1.2" />
<text x="238.40" y="315.60" font-size="8.0" text-anchor="end" fill="#1a1a1a" textLength="38.6" lengthAdjust="spacingAndGlyphs" transform="rotate(-90 238.40 315.60)" >0.00 mg/kg</text>
<text x="259.10" y="315.60" font-size="8.0" text-anchor="end" fill="#1a1a1a" textLength="38.6" lengthAdjust="spacingAndGlyphs" transform="rotate(-90 259.10 315.60)" >0.06 mg/kg</text>
<text x="279.80" y="315.60" font-size="8.0" text-anchor="end" fill="#1a1a1a" textLength="38.6" lengthAdjust="spacingAndGlyphs" transform="rotate(-90 279.80 315.60)" >0.25 mg/kg</text>
<text x="300.50" y="315.60" font-size="8.0" text-anchor="end" fill="#1a1a1a" textLength="38.6" lengthAdjust="spacingAndGlyphs" transform="rotate(-90 300.50 315.60)" >1.00 mg/kg</text>
<text x="321.20" y="315.60" font-size="8.0" text-anchor="end" fill="#1a1a1a" textLength="26" lengthAdjust="spacingAndGlyphs" transform="rotate(-90 321.20 315.60)" >FVIII KO</text>
<line x1="229.30" y1="366.30" x2="309.20" y2="366.30" stroke="#1a1a1a" stroke-width="1.2" />
<text x="265.30" y="376.80" font-size="9.4" text-anchor="middle" fill="#1a1a1a" textLength="76.1" lengthAdjust="spacingAndGlyphs" >Anti-FVIII antibody</text>
<text x="265.00" y="389.00" font-size="9.4" text-anchor="middle" fill="#1a1a1a" textLength="33" lengthAdjust="spacingAndGlyphs" >(mg/kg)</text>
<text x="191.50" y="250.50" font-size="9.4" text-anchor="middle" fill="#1a1a1a" textLength="73.3" lengthAdjust="spacingAndGlyphs" transform="rotate(-90 191.50 250.50)" >ETP (nM*minutes)</text>
<line x1="235.40" y1="222.20" x2="235.40" y2="241.30" stroke="#1a1a1a" stroke-width="1.2" />
<line x1="231.40" y1="222.20" x2="239.40" y2="222.20" stroke="#1a1a1a" stroke-width="1.2" />
<line x1="231.40" y1="241.30" x2="239.40" y2="241.30" stroke="#1a1a1a" stroke-width="1.2" />
<line x1="227.90" y1="232.00" x2="242.90" y2="232.00" stroke="#1a1a1a" stroke-width="1.2" />
<circle cx="231.50" cy="224.50" r="2.3" fill="#223f85" stroke="none" stroke-width="0"/>
<circle cx="238.50" cy="229.20" r="2.3" fill="#223f85" stroke="none" stroke-width="0"/>
<circle cx="235.00" cy="243.00" r="2.3" fill="#223f85" stroke="none" stroke-width="0"/>
<line x1="256.10" y1="221.90" x2="256.10" y2="265.00" stroke="#1a1a1a" stroke-width="1.2" />
<line x1="252.10" y1="221.90" x2="260.10" y2="221.90" stroke="#1a1a1a" stroke-width="1.2" />
<line x1="252.10" y1="265.00" x2="260.10" y2="265.00" stroke="#1a1a1a" stroke-width="1.2" />
<line x1="248.60" y1="243.50" x2="263.60" y2="243.50" stroke="#1a1a1a" stroke-width="1.2" />
<rect x="250.20" y="226.80" width="4.6" height="4.6" fill="#e8920f"/>
<rect x="257.10" y="230.90" width="4.6" height="4.6" fill="#e8920f"/>
<rect x="253.80" y="265.70" width="4.6" height="4.6" fill="#e8920f"/>
<text x="256.10" y="216.50" font-size="7.6" text-anchor="middle" fill="#1a1a1a" >ns</text>
<line x1="276.80" y1="247.80" x2="276.80" y2="262.50" stroke="#1a1a1a" stroke-width="1.2" />
<line x1="272.80" y1="247.80" x2="280.80" y2="247.80" stroke="#1a1a1a" stroke-width="1.2" />
<line x1="272.80" y1="262.50" x2="280.80" y2="262.50" stroke="#1a1a1a" stroke-width="1.2" />
<line x1="269.30" y1="255.20" x2="284.30" y2="255.20" stroke="#1a1a1a" stroke-width="1.2" />
<polygon points="273.30,248.20 275.60,252.80 271.00,252.80" fill="#5aaa32"/>
<polygon points="280.80,248.20 283.10,252.80 278.50,252.80" fill="#5aaa32"/>
<polygon points="276.80,252.60 279.10,257.20 274.50,257.20" fill="#5aaa32"/>
<polygon points="276.80,263.60 279.10,268.20 274.50,268.20" fill="#5aaa32"/>
<circle cx="276.80" cy="239.20" r="1.22" fill="#262626" stroke="none" stroke-width="0"/>
<line x1="297.50" y1="259.40" x2="297.50" y2="271.80" stroke="#1a1a1a" stroke-width="1.2" />
<line x1="293.50" y1="259.40" x2="301.50" y2="259.40" stroke="#1a1a1a" stroke-width="1.2" />
<line x1="293.50" y1="271.80" x2="301.50" y2="271.80" stroke="#1a1a1a" stroke-width="1.2" />
<line x1="290.00" y1="265.40" x2="305.00" y2="265.40" stroke="#1a1a1a" stroke-width="1.2" />
<polygon points="292.40,258.50 297.00,258.50 294.70,263.10" fill="#501470"/>
<polygon points="299.10,261.10 303.70,261.10 301.40,265.70" fill="#501470"/>
<polygon points="295.20,270.00 299.80,270.00 297.50,274.60" fill="#501470"/>
<circle cx="297.50" cy="250.50" r="1.22" fill="#262626" stroke="none" stroke-width="0"/>
<line x1="318.20" y1="269.30" x2="318.20" y2="289.30" stroke="#1a1a1a" stroke-width="1.2" />
<line x1="314.20" y1="269.30" x2="322.20" y2="269.30" stroke="#1a1a1a" stroke-width="1.2" />
<line x1="314.20" y1="289.30" x2="322.20" y2="289.30" stroke="#1a1a1a" stroke-width="1.2" />
<line x1="310.70" y1="280.10" x2="325.70" y2="280.10" stroke="#1a1a1a" stroke-width="1.2" />
<polygon points="318.20,266.50 320.60,268.90 318.20,271.30 315.80,268.90" fill="#be0a28"/>
<polygon points="318.20,277.80 320.60,280.20 318.20,282.60 315.80,280.20" fill="#be0a28"/>
<polygon points="318.20,286.80 320.60,289.20 318.20,291.60 315.80,289.20" fill="#be0a28"/>
<circle cx="316.60" cy="260.20" r="1.22" fill="#262626" stroke="none" stroke-width="0"/>
<circle cx="319.80" cy="260.20" r="1.22" fill="#262626" stroke="none" stroke-width="0"/>
<text x="357.40" y="185.90" font-size="11.4" text-anchor="start" fill="#1a1a1a" textLength="5.6" lengthAdjust="spacingAndGlyphs" >F</text>
<line x1="393.40" y1="196.00" x2="393.40" y2="307.70" stroke="#1a1a1a" stroke-width="1.3" />
<line x1="390.40" y1="307.70" x2="393.40" y2="307.70" stroke="#1a1a1a" stroke-width="1.2" />
<text x="387.90" y="310.55" font-size="8.0" text-anchor="end" fill="#1a1a1a" textLength="3.89" lengthAdjust="spacingAndGlyphs" >0</text>
<line x1="390.40" y1="292.99" x2="393.40" y2="292.99" stroke="#1a1a1a" stroke-width="1.2" />
<text x="387.90" y="295.84" font-size="8.0" text-anchor="end" fill="#1a1a1a" textLength="7.78" lengthAdjust="spacingAndGlyphs" >20</text>
<line x1="390.40" y1="278.29" x2="393.40" y2="278.29" stroke="#1a1a1a" stroke-width="1.2" />
<text x="387.90" y="281.14" font-size="8.0" text-anchor="end" fill="#1a1a1a" textLength="7.78" lengthAdjust="spacingAndGlyphs" >40</text>
<line x1="390.40" y1="263.58" x2="393.40" y2="263.58" stroke="#1a1a1a" stroke-width="1.2" />
<text x="387.90" y="266.43" font-size="8.0" text-anchor="end" fill="#1a1a1a" textLength="7.78" lengthAdjust="spacingAndGlyphs" >60</text>
<line x1="390.40" y1="248.88" x2="393.40" y2="248.88" stroke="#1a1a1a" stroke-width="1.2" />
<text x="387.90" y="251.73" font-size="8.0" text-anchor="end" fill="#1a1a1a" textLength="7.78" lengthAdjust="spacingAndGlyphs" >80</text>
<line x1="390.40" y1="234.17" x2="393.40" y2="234.17" stroke="#1a1a1a" stroke-width="1.2" />
<text x="387.90" y="237.02" font-size="8.0" text-anchor="end" fill="#1a1a1a" textLength="11.68" lengthAdjust="spacingAndGlyphs" >100</text>
<line x1="390.40" y1="219.46" x2="393.40" y2="219.46" stroke="#1a1a1a" stroke-width="1.2" />
<text x="387.90" y="222.31" font-size="8.0" text-anchor="end" fill="#1a1a1a" textLength="11.68" lengthAdjust="spacingAndGlyphs" >120</text>
<line x1="390.40" y1="204.76" x2="393.40" y2="204.76" stroke="#1a1a1a" stroke-width="1.2" />
<text x="387.90" y="207.61" font-size="8.0" text-anchor="end" fill="#1a1a1a" textLength="11.68" lengthAdjust="spacingAndGlyphs" >140</text>
<line x1="393.40" y1="307.70" x2="504.90" y2="307.70" stroke="#1a1a1a" stroke-width="1.3" />
<line x1="407.40" y1="307.70" x2="407.40" y2="310.90" stroke="#1a1a1a" stroke-width="1.2" />
<line x1="428.10" y1="307.70" x2="428.10" y2="310.90" stroke="#1a1a1a" stroke-width="1.2" />
<line x1="448.80" y1="307.70" x2="448.80" y2="310.90" stroke="#1a1a1a" stroke-width="1.2" />
<line x1="469.50" y1="307.70" x2="469.50" y2="310.90" stroke="#1a1a1a" stroke-width="1.2" />
<line x1="490.20" y1="307.70" x2="490.20" y2="310.90" stroke="#1a1a1a" stroke-width="1.2" />
<text x="410.40" y="315.60" font-size="8.0" text-anchor="end" fill="#1a1a1a" textLength="38.6" lengthAdjust="spacingAndGlyphs" transform="rotate(-90 410.40 315.60)" >0.00 mg/kg</text>
<text x="431.10" y="315.60" font-size="8.0" text-anchor="end" fill="#1a1a1a" textLength="38.6" lengthAdjust="spacingAndGlyphs" transform="rotate(-90 431.10 315.60)" >0.06 mg/kg</text>
<text x="451.80" y="315.60" font-size="8.0" text-anchor="end" fill="#1a1a1a" textLength="38.6" lengthAdjust="spacingAndGlyphs" transform="rotate(-90 451.80 315.60)" >0.25 mg/kg</text>
<text x="472.50" y="315.60" font-size="8.0" text-anchor="end" fill="#1a1a1a" textLength="38.6" lengthAdjust="spacingAndGlyphs" transform="rotate(-90 472.50 315.60)" >1.00 mg/kg</text>
<text x="493.20" y="315.60" font-size="8.0" text-anchor="end" fill="#1a1a1a" textLength="26" lengthAdjust="spacingAndGlyphs" transform="rotate(-90 493.20 315.60)" >FVIII KO</text>
<line x1="401.50" y1="366.50" x2="481.20" y2="366.50" stroke="#1a1a1a" stroke-width="1.2" />
<text x="437.30" y="376.80" font-size="9.4" text-anchor="middle" fill="#1a1a1a" textLength="76.1" lengthAdjust="spacingAndGlyphs" >Anti-FVIII antibody</text>
<text x="437.30" y="389.00" font-size="9.4" text-anchor="middle" fill="#1a1a1a" textLength="33" lengthAdjust="spacingAndGlyphs" >(mg/kg)</text>
<text x="368.50" y="251.80" font-size="9.4" text-anchor="middle" fill="#1a1a1a" textLength="70" lengthAdjust="spacingAndGlyphs" transform="rotate(-90 368.50 251.80)" >Peak height (nM)</text>
<line x1="407.40" y1="229.70" x2="407.40" y2="255.80" stroke="#1a1a1a" stroke-width="1.2" />
<line x1="403.40" y1="229.70" x2="411.40" y2="229.70" stroke="#1a1a1a" stroke-width="1.2" />
<line x1="403.40" y1="255.80" x2="411.40" y2="255.80" stroke="#1a1a1a" stroke-width="1.2" />
<line x1="399.90" y1="243.00" x2="414.90" y2="243.00" stroke="#1a1a1a" stroke-width="1.2" />
<circle cx="403.60" cy="232.80" r="2.3" fill="#223f85" stroke="none" stroke-width="0"/>
<circle cx="410.50" cy="238.00" r="2.3" fill="#223f85" stroke="none" stroke-width="0"/>
<circle cx="407.40" cy="258.20" r="2.3" fill="#223f85" stroke="none" stroke-width="0"/>
<line x1="428.10" y1="222.20" x2="428.10" y2="283.40" stroke="#1a1a1a" stroke-width="1.2" />
<line x1="424.10" y1="222.20" x2="432.10" y2="222.20" stroke="#1a1a1a" stroke-width="1.2" />
<line x1="424.10" y1="283.40" x2="432.10" y2="283.40" stroke="#1a1a1a" stroke-width="1.2" />
<line x1="420.60" y1="252.20" x2="435.60" y2="252.20" stroke="#1a1a1a" stroke-width="1.2" />
<rect x="422.20" y="231.00" width="4.6" height="4.6" fill="#e8920f"/>
<rect x="429.10" y="234.80" width="4.6" height="4.6" fill="#e8920f"/>
<rect x="425.80" y="285.40" width="4.6" height="4.6" fill="#e8920f"/>
<text x="428.10" y="217.00" font-size="7.6" text-anchor="middle" fill="#1a1a1a" >ns</text>
<line x1="448.80" y1="264.60" x2="448.80" y2="281.20" stroke="#1a1a1a" stroke-width="1.2" />
<line x1="444.80" y1="264.60" x2="452.80" y2="264.60" stroke="#1a1a1a" stroke-width="1.2" />
<line x1="444.80" y1="281.20" x2="452.80" y2="281.20" stroke="#1a1a1a" stroke-width="1.2" />
<line x1="441.30" y1="272.80" x2="456.30" y2="272.80" stroke="#1a1a1a" stroke-width="1.2" />
<polygon points="444.90,267.70 447.20,272.30 442.60,272.30" fill="#5aaa32"/>
<polygon points="452.80,265.10 455.10,269.70 450.50,269.70" fill="#5aaa32"/>
<polygon points="448.80,270.00 451.10,274.60 446.50,274.60" fill="#5aaa32"/>
<polygon points="448.80,283.50 451.10,288.10 446.50,288.10" fill="#5aaa32"/>
<circle cx="448.80" cy="256.20" r="1.22" fill="#262626" stroke="none" stroke-width="0"/>
<line x1="469.50" y1="270.30" x2="469.50" y2="287.20" stroke="#1a1a1a" stroke-width="1.2" />
<line x1="465.50" y1="270.30" x2="473.50" y2="270.30" stroke="#1a1a1a" stroke-width="1.2" />
<line x1="465.50" y1="287.20" x2="473.50" y2="287.20" stroke="#1a1a1a" stroke-width="1.2" />
<line x1="462.00" y1="278.80" x2="477.00" y2="278.80" stroke="#1a1a1a" stroke-width="1.2" />
<polygon points="463.50,269.50 468.10,269.50 465.80,274.10" fill="#501470"/>
<polygon points="470.70,272.30 475.30,272.30 473.00,276.90" fill="#501470"/>
<polygon points="467.20,286.20 471.80,286.20 469.50,290.80" fill="#501470"/>
<circle cx="469.50" cy="264.30" r="1.22" fill="#262626" stroke="none" stroke-width="0"/>
<line x1="490.20" y1="285.40" x2="490.20" y2="299.00" stroke="#1a1a1a" stroke-width="1.2" />
<line x1="486.20" y1="285.40" x2="494.20" y2="285.40" stroke="#1a1a1a" stroke-width="1.2" />
<line x1="486.20" y1="299.00" x2="494.20" y2="299.00" stroke="#1a1a1a" stroke-width="1.2" />
<line x1="482.70" y1="292.30" x2="497.70" y2="292.30" stroke="#1a1a1a" stroke-width="1.2" />
<polygon points="486.80,283.30 489.20,285.70 486.80,288.10 484.40,285.70" fill="#be0a28"/>
<polygon points="493.40,289.90 495.80,292.30 493.40,294.70 491.00,292.30" fill="#be0a28"/>
<polygon points="490.20,296.60 492.60,299.00 490.20,301.40 487.80,299.00" fill="#be0a28"/>
<circle cx="488.60" cy="276.50" r="1.22" fill="#262626" stroke="none" stroke-width="0"/>
<circle cx="491.80" cy="276.50" r="1.22" fill="#262626" stroke="none" stroke-width="0"/>
<text x="8.70" y="417.60" font-size="11.4" text-anchor="start" fill="#1a1a1a" textLength="8.0" lengthAdjust="spacingAndGlyphs" >G</text>
<line x1="49.30" y1="424.40" x2="49.30" y2="537.60" stroke="#1a1a1a" stroke-width="1.3" />
<line x1="46.30" y1="537.30" x2="49.30" y2="537.30" stroke="#1a1a1a" stroke-width="1.2" />
<text x="43.80" y="540.15" font-size="8.0" text-anchor="end" fill="#1a1a1a" textLength="3.89" lengthAdjust="spacingAndGlyphs" >0</text>
<line x1="46.30" y1="515.32" x2="49.30" y2="515.32" stroke="#1a1a1a" stroke-width="1.2" />
<text x="43.80" y="518.17" font-size="8.0" text-anchor="end" fill="#1a1a1a" textLength="3.89" lengthAdjust="spacingAndGlyphs" >2</text>
<line x1="46.30" y1="493.34" x2="49.30" y2="493.34" stroke="#1a1a1a" stroke-width="1.2" />
<text x="43.80" y="496.19" font-size="8.0" text-anchor="end" fill="#1a1a1a" textLength="3.89" lengthAdjust="spacingAndGlyphs" >4</text>
<line x1="46.30" y1="471.36" x2="49.30" y2="471.36" stroke="#1a1a1a" stroke-width="1.2" />
<text x="43.80" y="474.21" font-size="8.0" text-anchor="end" fill="#1a1a1a" textLength="3.89" lengthAdjust="spacingAndGlyphs" >6</text>
<line x1="46.30" y1="449.38" x2="49.30" y2="449.38" stroke="#1a1a1a" stroke-width="1.2" />
<text x="43.80" y="452.23" font-size="8.0" text-anchor="end" fill="#1a1a1a" textLength="3.89" lengthAdjust="spacingAndGlyphs" >8</text>
<line x1="46.30" y1="427.40" x2="49.30" y2="427.40" stroke="#1a1a1a" stroke-width="1.2" />
<text x="43.80" y="430.25" font-size="8.0" text-anchor="end" fill="#1a1a1a" textLength="7.78" lengthAdjust="spacingAndGlyphs" >10</text>
<line x1="49.30" y1="537.60" x2="160.50" y2="537.60" stroke="#1a1a1a" stroke-width="1.3" />
<line x1="63.10" y1="537.60" x2="63.10" y2="540.80" stroke="#1a1a1a" stroke-width="1.2" />
<line x1="83.80" y1="537.60" x2="83.80" y2="540.80" stroke="#1a1a1a" stroke-width="1.2" />
<line x1="104.50" y1="537.60" x2="104.50" y2="540.80" stroke="#1a1a1a" stroke-width="1.2" />
<line x1="125.20" y1="537.60" x2="125.20" y2="540.80" stroke="#1a1a1a" stroke-width="1.2" />
<line x1="145.90" y1="537.60" x2="145.90" y2="540.80" stroke="#1a1a1a" stroke-width="1.2" />
<text x="66.10" y="545.70" font-size="8.0" text-anchor="end" fill="#1a1a1a" textLength="38.6" lengthAdjust="spacingAndGlyphs" transform="rotate(-90 66.10 545.70)" >0.00 mg/kg</text>
<text x="86.80" y="545.70" font-size="8.0" text-anchor="end" fill="#1a1a1a" textLength="38.6" lengthAdjust="spacingAndGlyphs" transform="rotate(-90 86.80 545.70)" >0.06 mg/kg</text>
<text x="107.50" y="545.70" font-size="8.0" text-anchor="end" fill="#1a1a1a" textLength="38.6" lengthAdjust="spacingAndGlyphs" transform="rotate(-90 107.50 545.70)" >0.25 mg/kg</text>
<text x="128.20" y="545.70" font-size="8.0" text-anchor="end" fill="#1a1a1a" textLength="38.6" lengthAdjust="spacingAndGlyphs" transform="rotate(-90 128.20 545.70)" >1.00 mg/kg</text>
<text x="148.90" y="551.50" font-size="8.0" text-anchor="end" fill="#1a1a1a" textLength="14.0" lengthAdjust="spacingAndGlyphs" transform="rotate(-90 148.90 551.50)" >FVIII</text>
<text x="145.50" y="545.90" font-size="5.0" text-anchor="end" fill="#1a1a1a" textLength="5.4" lengthAdjust="spacingAndGlyphs" transform="rotate(-90 145.50 545.90)" >-/-</text>
<line x1="58.50" y1="597.70" x2="138.20" y2="597.70" stroke="#1a1a1a" stroke-width="1.2" />
<text x="93.60" y="608.70" font-size="9.4" text-anchor="middle" fill="#1a1a1a" textLength="76.1" lengthAdjust="spacingAndGlyphs" >Anti-FVIII antibody</text>
<text x="93.60" y="620.80" font-size="9.4" text-anchor="middle" fill="#1a1a1a" textLength="33" lengthAdjust="spacingAndGlyphs" >(mg/kg)</text>
<text x="29.00" y="480.90" font-size="9.4" text-anchor="middle" fill="#1a1a1a" textLength="38.6" lengthAdjust="spacingAndGlyphs" transform="rotate(-90 29.00 480.90)" >TTP (min)</text>
<line x1="63.10" y1="512.70" x2="63.10" y2="524.70" stroke="#1a1a1a" stroke-width="1.2" />
<line x1="59.10" y1="512.70" x2="67.10" y2="512.70" stroke="#1a1a1a" stroke-width="1.2" />
<line x1="59.10" y1="524.70" x2="67.10" y2="524.70" stroke="#1a1a1a" stroke-width="1.2" />
<line x1="55.60" y1="518.20" x2="70.60" y2="518.20" stroke="#1a1a1a" stroke-width="1.2" />
<circle cx="59.60" cy="513.10" r="2.3" fill="#223f85" stroke="none" stroke-width="0"/>
<circle cx="66.60" cy="516.60" r="2.3" fill="#223f85" stroke="none" stroke-width="0"/>
<circle cx="63.10" cy="525.40" r="2.3" fill="#223f85" stroke="none" stroke-width="0"/>
<line x1="83.80" y1="494.60" x2="83.80" y2="515.40" stroke="#1a1a1a" stroke-width="1.2" />
<line x1="79.80" y1="494.60" x2="87.80" y2="494.60" stroke="#1a1a1a" stroke-width="1.2" />
<line x1="79.80" y1="515.40" x2="87.80" y2="515.40" stroke="#1a1a1a" stroke-width="1.2" />
<line x1="76.30" y1="505.00" x2="91.30" y2="505.00" stroke="#1a1a1a" stroke-width="1.2" />
<rect x="78.00" y="496.50" width="4.6" height="4.6" fill="#e8920f"/>
<rect x="84.90" y="496.50" width="4.6" height="4.6" fill="#e8920f"/>
<rect x="81.50" y="514.30" width="4.6" height="4.6" fill="#e8920f"/>
<text x="83.80" y="488.00" font-size="7.6" text-anchor="middle" fill="#1a1a1a" >ns</text>
<line x1="104.50" y1="485.00" x2="104.50" y2="513.60" stroke="#1a1a1a" stroke-width="1.2" />
<line x1="100.50" y1="485.00" x2="108.50" y2="485.00" stroke="#1a1a1a" stroke-width="1.2" />
<line x1="100.50" y1="513.60" x2="108.50" y2="513.60" stroke="#1a1a1a" stroke-width="1.2" />
<line x1="97.00" y1="499.30" x2="112.00" y2="499.30" stroke="#1a1a1a" stroke-width="1.2" />
<polygon points="104.50,476.20 106.80,480.80 102.20,480.80" fill="#5aaa32"/>
<polygon points="104.50,500.00 106.80,504.60 102.20,504.60" fill="#5aaa32"/>
<polygon points="101.00,506.90 103.30,511.50 98.70,511.50" fill="#5aaa32"/>
<polygon points="107.90,505.00 110.20,509.60 105.60,509.60" fill="#5aaa32"/>
<text x="104.50" y="473.00" font-size="7.6" text-anchor="middle" fill="#1a1a1a" >ns</text>
<line x1="125.20" y1="483.80" x2="125.20" y2="511.50" stroke="#1a1a1a" stroke-width="1.2" />
<line x1="121.20" y1="483.80" x2="129.20" y2="483.80" stroke="#1a1a1a" stroke-width="1.2" />
<line x1="121.20" y1="511.50" x2="129.20" y2="511.50" stroke="#1a1a1a" stroke-width="1.2" />
<line x1="117.70" y1="497.00" x2="132.70" y2="497.00" stroke="#1a1a1a" stroke-width="1.2" />
<polygon points="122.90,481.90 127.50,481.90 125.20,486.50" fill="#501470"/>
<polygon points="122.90,491.90 127.50,491.90 125.20,496.50" fill="#501470"/>
<polygon points="122.90,509.00 127.50,509.00 125.20,513.60" fill="#501470"/>
<text x="125.20" y="478.80" font-size="7.6" text-anchor="middle" fill="#1a1a1a" >ns</text>
<line x1="145.90" y1="444.80" x2="145.90" y2="494.20" stroke="#1a1a1a" stroke-width="1.2" />
<line x1="141.90" y1="444.80" x2="149.90" y2="444.80" stroke="#1a1a1a" stroke-width="1.2" />
<line x1="141.90" y1="494.20" x2="149.90" y2="494.20" stroke="#1a1a1a" stroke-width="1.2" />
<line x1="138.40" y1="469.40" x2="153.40" y2="469.40" stroke="#1a1a1a" stroke-width="1.2" />
<polygon points="145.90,443.60 148.30,446.00 145.90,448.40 143.50,446.00" fill="#be0a28"/>
<polygon points="145.90,464.90 148.30,467.30 145.90,469.70 143.50,467.30" fill="#be0a28"/>
<polygon points="145.90,491.80 148.30,494.20 145.90,496.60 143.50,494.20" fill="#be0a28"/>
<circle cx="144.30" cy="436.40" r="1.22" fill="#262626" stroke="none" stroke-width="0"/>
<circle cx="147.50" cy="436.40" r="1.22" fill="#262626" stroke="none" stroke-width="0"/>
<rect x="357.7" y="409.1" width="1.25" height="8.5" fill="#1a1a1a"/>
<line x1="393.60" y1="424.00" x2="393.60" y2="537.60" stroke="#1a1a1a" stroke-width="1.3" />
<line x1="390.60" y1="537.50" x2="393.60" y2="537.50" stroke="#1a1a1a" stroke-width="1.2" />
<text x="388.10" y="540.35" font-size="8.0" text-anchor="end" fill="#1a1a1a" textLength="3.89" lengthAdjust="spacingAndGlyphs" >0</text>
<line x1="390.60" y1="519.16" x2="393.60" y2="519.16" stroke="#1a1a1a" stroke-width="1.2" />
<text x="388.10" y="522.01" font-size="8.0" text-anchor="end" fill="#1a1a1a" textLength="3.89" lengthAdjust="spacingAndGlyphs" >5</text>
<line x1="390.60" y1="500.83" x2="393.60" y2="500.83" stroke="#1a1a1a" stroke-width="1.2" />
<text x="388.10" y="503.68" font-size="8.0" text-anchor="end" fill="#1a1a1a" textLength="7.78" lengthAdjust="spacingAndGlyphs" >10</text>
<line x1="390.60" y1="482.50" x2="393.60" y2="482.50" stroke="#1a1a1a" stroke-width="1.2" />
<text x="388.10" y="485.35" font-size="8.0" text-anchor="end" fill="#1a1a1a" textLength="7.78" lengthAdjust="spacingAndGlyphs" >15</text>
<line x1="390.60" y1="464.16" x2="393.60" y2="464.16" stroke="#1a1a1a" stroke-width="1.2" />
<text x="388.10" y="467.01" font-size="8.0" text-anchor="end" fill="#1a1a1a" textLength="7.78" lengthAdjust="spacingAndGlyphs" >20</text>
<line x1="390.60" y1="445.82" x2="393.60" y2="445.82" stroke="#1a1a1a" stroke-width="1.2" />
<text x="388.10" y="448.68" font-size="8.0" text-anchor="end" fill="#1a1a1a" textLength="7.78" lengthAdjust="spacingAndGlyphs" >25</text>
<line x1="390.60" y1="427.49" x2="393.60" y2="427.49" stroke="#1a1a1a" stroke-width="1.2" />
<text x="388.10" y="430.34" font-size="8.0" text-anchor="end" fill="#1a1a1a" textLength="7.78" lengthAdjust="spacingAndGlyphs" >30</text>
<line x1="393.60" y1="537.60" x2="505.50" y2="537.60" stroke="#1a1a1a" stroke-width="1.3" />
<line x1="407.80" y1="537.60" x2="407.80" y2="540.80" stroke="#1a1a1a" stroke-width="1.2" />
<line x1="428.50" y1="537.60" x2="428.50" y2="540.80" stroke="#1a1a1a" stroke-width="1.2" />
<line x1="449.20" y1="537.60" x2="449.20" y2="540.80" stroke="#1a1a1a" stroke-width="1.2" />
<line x1="469.90" y1="537.60" x2="469.90" y2="540.80" stroke="#1a1a1a" stroke-width="1.2" />
<line x1="490.60" y1="537.60" x2="490.60" y2="540.80" stroke="#1a1a1a" stroke-width="1.2" />
<text x="410.80" y="545.70" font-size="8.0" text-anchor="end" fill="#1a1a1a" textLength="38.6" lengthAdjust="spacingAndGlyphs" transform="rotate(-90 410.80 545.70)" >0.00 mg/kg</text>
<text x="431.50" y="545.70" font-size="8.0" text-anchor="end" fill="#1a1a1a" textLength="38.6" lengthAdjust="spacingAndGlyphs" transform="rotate(-90 431.50 545.70)" >0.06 mg/kg</text>
<text x="452.20" y="545.70" font-size="8.0" text-anchor="end" fill="#1a1a1a" textLength="38.6" lengthAdjust="spacingAndGlyphs" transform="rotate(-90 452.20 545.70)" >0.25 mg/kg</text>
<text x="472.90" y="545.70" font-size="8.0" text-anchor="end" fill="#1a1a1a" textLength="38.6" lengthAdjust="spacingAndGlyphs" transform="rotate(-90 472.90 545.70)" >1.00 mg/kg</text>
<text x="493.60" y="551.50" font-size="8.0" text-anchor="end" fill="#1a1a1a" textLength="14.0" lengthAdjust="spacingAndGlyphs" transform="rotate(-90 493.60 551.50)" >FVIII</text>
<text x="490.20" y="545.90" font-size="5.0" text-anchor="end" fill="#1a1a1a" textLength="5.4" lengthAdjust="spacingAndGlyphs" transform="rotate(-90 490.20 545.90)" >-/-</text>
<line x1="402.50" y1="597.50" x2="483.00" y2="597.50" stroke="#1a1a1a" stroke-width="1.2" />
<text x="438.20" y="608.60" font-size="9.4" text-anchor="middle" fill="#1a1a1a" textLength="76.1" lengthAdjust="spacingAndGlyphs" >Anti-FVIII antibody</text>
<text x="438.40" y="620.60" font-size="9.4" text-anchor="middle" fill="#1a1a1a" textLength="33" lengthAdjust="spacingAndGlyphs" >(mg/kg)</text>
<text x="370.90" y="481.50" font-size="9.4" text-anchor="middle" fill="#1a1a1a" transform="rotate(-90 370.90 481.50)" >CLT<tspan font-size="6.3" dy="1.8">50%</tspan><tspan dy="-1.8"> (min)</tspan></text>
<line x1="407.80" y1="458.00" x2="407.80" y2="473.50" stroke="#1a1a1a" stroke-width="1.2" />
<line x1="403.80" y1="458.00" x2="411.80" y2="458.00" stroke="#1a1a1a" stroke-width="1.2" />
<line x1="403.80" y1="473.50" x2="411.80" y2="473.50" stroke="#1a1a1a" stroke-width="1.2" />
<line x1="400.30" y1="466.10" x2="415.30" y2="466.10" stroke="#1a1a1a" stroke-width="1.2" />
<circle cx="407.80" cy="457.10" r="2.3" fill="#223f85" stroke="none" stroke-width="0"/>
<circle cx="404.20" cy="470.40" r="2.3" fill="#223f85" stroke="none" stroke-width="0"/>
<circle cx="411.10" cy="470.40" r="2.3" fill="#223f85" stroke="none" stroke-width="0"/>
<line x1="428.50" y1="442.00" x2="428.50" y2="485.50" stroke="#1a1a1a" stroke-width="1.2" />
<line x1="424.50" y1="442.00" x2="432.50" y2="442.00" stroke="#1a1a1a" stroke-width="1.2" />
<line x1="424.50" y1="485.50" x2="432.50" y2="485.50" stroke="#1a1a1a" stroke-width="1.2" />
<line x1="421.00" y1="463.70" x2="436.00" y2="463.70" stroke="#1a1a1a" stroke-width="1.2" />
<circle cx="428.50" cy="447.60" r="2.3" fill="#e8920f" stroke="none" stroke-width="0"/>
<circle cx="428.50" cy="455.90" r="2.3" fill="#e8920f" stroke="none" stroke-width="0"/>
<circle cx="428.50" cy="489.00" r="2.3" fill="#e8920f" stroke="none" stroke-width="0"/>
<text x="428.50" y="437.20" font-size="7.6" text-anchor="middle" fill="#1a1a1a" >ns</text>
<line x1="449.20" y1="459.60" x2="449.20" y2="471.90" stroke="#1a1a1a" stroke-width="1.2" />
<line x1="445.20" y1="459.60" x2="453.20" y2="459.60" stroke="#1a1a1a" stroke-width="1.2" />
<line x1="445.20" y1="471.90" x2="453.20" y2="471.90" stroke="#1a1a1a" stroke-width="1.2" />
<line x1="441.70" y1="465.90" x2="456.70" y2="465.90" stroke="#1a1a1a" stroke-width="1.2" />
<polygon points="445.00,461.50 447.30,466.10 442.70,466.10" fill="#5aaa32"/>
<polygon points="452.40,458.00 454.70,462.60 450.10,462.60" fill="#5aaa32"/>
<polygon points="449.20,462.70 451.50,467.30 446.90,467.30" fill="#5aaa32"/>
<polygon points="449.20,472.80 451.50,477.40 446.90,477.40" fill="#5aaa32"/>
<text x="449.20" y="453.00" font-size="7.6" text-anchor="middle" fill="#1a1a1a" >ns</text>
<line x1="469.90" y1="455.70" x2="469.90" y2="479.70" stroke="#1a1a1a" stroke-width="1.2" />
<line x1="465.90" y1="455.70" x2="473.90" y2="455.70" stroke="#1a1a1a" stroke-width="1.2" />
<line x1="465.90" y1="479.70" x2="473.90" y2="479.70" stroke="#1a1a1a" stroke-width="1.2" />
<line x1="462.40" y1="467.70" x2="477.40" y2="467.70" stroke="#1a1a1a" stroke-width="1.2" />
<polygon points="463.70,458.00 468.30,458.00 466.00,462.60" fill="#501470"/>
<polygon points="471.10,458.00 475.70,458.00 473.40,462.60" fill="#501470"/>
<polygon points="467.60,479.30 472.20,479.30 469.90,483.90" fill="#501470"/>
<text x="469.90" y="449.10" font-size="7.6" text-anchor="middle" fill="#1a1a1a" >ns</text>
<line x1="490.60" y1="483.40" x2="490.60" y2="494.30" stroke="#1a1a1a" stroke-width="1.2" />
<line x1="486.60" y1="483.40" x2="494.60" y2="483.40" stroke="#1a1a1a" stroke-width="1.2" />
<line x1="486.60" y1="494.30" x2="494.60" y2="494.30" stroke="#1a1a1a" stroke-width="1.2" />
<line x1="483.10" y1="489.00" x2="498.10" y2="489.00" stroke="#1a1a1a" stroke-width="1.2" />
<polygon points="490.60,481.00 493.00,483.40 490.60,485.80 488.20,483.40" fill="#be0a28"/>
<polygon points="494.50,486.60 496.90,489.00 494.50,491.40 492.10,489.00" fill="#be0a28"/>
<polygon points="487.60,492.30 490.00,494.70 487.60,497.10 485.20,494.70" fill="#be0a28"/>
<circle cx="489.00" cy="470.70" r="1.22" fill="#262626" stroke="none" stroke-width="0"/>
<circle cx="492.20" cy="470.70" r="1.22" fill="#262626" stroke="none" stroke-width="0"/>
<text x="182.90" y="417.60" font-size="11.4" text-anchor="start" fill="#1a1a1a" textLength="6.8" lengthAdjust="spacingAndGlyphs" >H</text>
<line x1="221.40" y1="424.40" x2="221.40" y2="537.10" stroke="#1a1a1a" stroke-width="1.3" />
<line x1="218.40" y1="537.10" x2="221.40" y2="537.10" stroke="#1a1a1a" stroke-width="1.2" />
<text x="215.90" y="539.95" font-size="8.0" text-anchor="end" fill="#1a1a1a" textLength="9.73" lengthAdjust="spacingAndGlyphs" >0.5</text>
<line x1="218.40" y1="509.60" x2="221.40" y2="509.60" stroke="#1a1a1a" stroke-width="1.2" />
<text x="215.90" y="512.45" font-size="8.0" text-anchor="end" fill="#1a1a1a" textLength="9.73" lengthAdjust="spacingAndGlyphs" >0.6</text>
<line x1="218.40" y1="482.10" x2="221.40" y2="482.10" stroke="#1a1a1a" stroke-width="1.2" />
<text x="215.90" y="484.95" font-size="8.0" text-anchor="end" fill="#1a1a1a" textLength="9.73" lengthAdjust="spacingAndGlyphs" >0.7</text>
<line x1="218.40" y1="454.60" x2="221.40" y2="454.60" stroke="#1a1a1a" stroke-width="1.2" />
<text x="215.90" y="457.45" font-size="8.0" text-anchor="end" fill="#1a1a1a" textLength="9.73" lengthAdjust="spacingAndGlyphs" >0.8</text>
<line x1="218.40" y1="427.10" x2="221.40" y2="427.10" stroke="#1a1a1a" stroke-width="1.2" />
<text x="215.90" y="429.95" font-size="8.0" text-anchor="end" fill="#1a1a1a" textLength="9.73" lengthAdjust="spacingAndGlyphs" >0.9</text>
<line x1="221.40" y1="537.10" x2="332.60" y2="537.10" stroke="#1a1a1a" stroke-width="1.3" />
<line x1="221.60" y1="537.10" x2="221.60" y2="540.30" stroke="#1a1a1a" stroke-width="1.2" />
<text x="221.60" y="551.30" font-size="8.0" text-anchor="middle" fill="#1a1a1a" textLength="3.89" lengthAdjust="spacingAndGlyphs" >0</text>
<line x1="237.80" y1="537.10" x2="237.80" y2="540.30" stroke="#1a1a1a" stroke-width="1.2" />
<text x="237.80" y="551.30" font-size="8.0" text-anchor="middle" fill="#1a1a1a" textLength="3.89" lengthAdjust="spacingAndGlyphs" >5</text>
<line x1="254.00" y1="537.10" x2="254.00" y2="540.30" stroke="#1a1a1a" stroke-width="1.2" />
<text x="254.00" y="551.30" font-size="8.0" text-anchor="middle" fill="#1a1a1a" textLength="7.78" lengthAdjust="spacingAndGlyphs" >10</text>
<line x1="270.20" y1="537.10" x2="270.20" y2="540.30" stroke="#1a1a1a" stroke-width="1.2" />
<text x="270.20" y="551.30" font-size="8.0" text-anchor="middle" fill="#1a1a1a" textLength="7.78" lengthAdjust="spacingAndGlyphs" >15</text>
<line x1="286.40" y1="537.10" x2="286.40" y2="540.30" stroke="#1a1a1a" stroke-width="1.2" />
<text x="286.40" y="551.30" font-size="8.0" text-anchor="middle" fill="#1a1a1a" textLength="7.78" lengthAdjust="spacingAndGlyphs" >20</text>
<line x1="302.60" y1="537.10" x2="302.60" y2="540.30" stroke="#1a1a1a" stroke-width="1.2" />
<text x="302.60" y="551.30" font-size="8.0" text-anchor="middle" fill="#1a1a1a" textLength="7.78" lengthAdjust="spacingAndGlyphs" >25</text>
<line x1="318.80" y1="537.10" x2="318.80" y2="540.30" stroke="#1a1a1a" stroke-width="1.2" />
<text x="318.80" y="551.30" font-size="8.0" text-anchor="middle" fill="#1a1a1a" textLength="7.78" lengthAdjust="spacingAndGlyphs" >30</text>
<text x="278.50" y="565.20" font-size="9.4" text-anchor="middle" fill="#1a1a1a" textLength="43.9" lengthAdjust="spacingAndGlyphs" >Time (min)</text>
<text x="197.60" y="499.00" font-size="10.4" text-anchor="start" fill="#1a1a1a" textLength="13.2" lengthAdjust="spacingAndGlyphs" transform="rotate(-90 197.60 499.00)" >OD</text>
<text x="198.60" y="485.50" font-size="6.6" text-anchor="start" fill="#1a1a1a" textLength="21.4" lengthAdjust="spacingAndGlyphs" transform="rotate(-90 198.60 485.50)" >405nm</text>
<line x1="229.70" y1="456.90" x2="229.70" y2="482.10" stroke="#1a1a1a" stroke-width="1.1" stroke-dasharray="1.1 0.9"/>
<line x1="236.90" y1="460.00" x2="236.90" y2="494.00" stroke="#1a1a1a" stroke-width="1.1" stroke-dasharray="1.1 0.9"/>
<line x1="245.70" y1="454.30" x2="245.70" y2="478.90" stroke="#1a1a1a" stroke-width="1.1" stroke-dasharray="1.1 0.9"/>
<polyline points="221.70,514.30 221.97,514.88 222.34,515.71 222.77,516.69 223.26,517.69 223.78,518.59 224.30,519.30 225.16,520.09 226.11,520.71 227.06,521.08 227.90,521.10 228.60,521.06 229.21,520.91 229.77,520.05 230.30,517.90 230.39,517.35 230.48,516.75 230.57,516.09 230.65,515.39 230.74,514.64 230.82,513.85 230.90,513.02 230.98,512.16 231.06,511.27 231.14,510.34 231.22,509.39 231.29,508.42 231.37,507.42 231.45,506.41 231.52,505.39 231.59,504.36 231.67,503.32 231.74,502.27 231.81,501.23 231.88,500.18 231.96,499.15 232.03,498.12 232.10,497.10 232.16,496.25 232.21,495.38 232.27,494.48 232.32,493.55 232.38,492.60 232.43,491.63 232.48,490.65 232.53,489.66 232.58,488.65 232.63,487.64 232.68,486.62 232.73,485.60 232.78,484.59 232.83,483.58 232.88,482.57 232.93,481.57 232.98,480.59 233.03,479.62 233.08,478.67 233.14,477.74 233.19,476.84 233.24,475.96 233.30,475.11 233.36,474.29 233.42,473.51 233.48,472.76 233.54,472.06 233.60,471.40 233.77,469.87 233.94,468.52 234.13,467.33 234.32,466.28 234.51,465.35 234.70,464.53 234.90,463.79 235.10,463.13 235.30,462.53 235.50,461.95 235.70,461.40 236.22,460.07 236.75,459.63 237.90,459.30 238.56,458.89 239.30,459.01 240.13,458.72 241.04,458.82 242.05,458.73 243.16,458.13 244.38,457.97 245.70,458.60 246.47,458.02 247.31,457.93 248.21,458.54 249.16,457.99 250.14,458.24 251.16,457.84 252.19,457.92 253.23,457.41 254.28,457.78 255.31,457.92 256.33,457.56 257.31,457.71 258.26,457.60 259.16,457.03 260.00,457.63 261.08,457.47 262.12,457.22 263.12,457.01 264.07,457.80 265.00,457.50 265.89,457.78 266.76,457.99 267.60,457.90 268.42,458.16 269.22,457.75 270.00,458.17 271.17,457.90 272.24,458.35 273.24,458.30 274.20,457.63 275.15,457.75 276.11,458.02 277.10,459.02 277.90,458.90 278.72,459.51 279.55,459.72 280.38,460.46 281.20,460.94 282.01,461.54 282.80,462.39 283.57,463.04 284.30,463.96 285.00,464.39 285.67,465.25 286.31,465.82 286.94,466.59 287.55,466.99 288.16,467.24 288.76,468.63 289.37,469.54 290.00,470.36 290.49,470.79 291.00,471.71 291.52,472.10 292.04,473.55 292.57,474.23 293.09,474.89 293.60,475.61 294.09,477.22 294.55,478.21 294.98,478.21 295.36,479.60 295.70,479.92 296.27,480.95 296.58,482.00 296.79,483.22 297.04,484.18 297.50,484.59 297.84,485.84 298.23,486.14 298.67,487.63 299.13,488.21 299.61,489.65 300.10,490.26 300.57,491.19 301.02,492.09 301.44,492.93 301.80,493.70 302.29,494.82 302.69,495.82 303.03,496.73 303.36,497.60 303.74,498.48 304.20,499.40 304.67,500.22 305.18,501.02 305.72,501.83 306.29,502.65 306.88,503.47 307.48,504.32 308.10,505.20 308.60,505.92 309.14,506.66 309.70,507.44 310.28,508.22 310.85,509.00 311.41,509.77 311.94,510.52 312.45,511.23 312.90,511.90 313.48,512.81 313.97,513.64 314.41,514.42 314.84,515.17 315.29,515.92 315.80,516.70 316.38,517.53 317.00,518.39 317.64,519.25 318.29,520.08 318.95,520.84 319.60,521.50 320.38,522.17 321.16,522.75 321.94,523.23 322.72,523.61 323.50,523.90 324.42,524.02 325.31,523.92 326.25,523.82 327.30,523.90 328.16,524.14 329.15,524.49 330.19,524.90 331.17,525.31 332.01,525.66 332.60,525.90" fill="none" stroke="#5aaa32" stroke-width="1.55" stroke-linejoin="round" />
<polyline points="221.70,510.00 222.13,510.41 222.73,510.98 223.44,511.66 224.22,512.39 225.00,513.11 225.75,513.76 226.40,514.30 227.38,514.98 228.27,515.50 229.13,515.94 230.00,516.40 230.90,516.99 231.81,517.64 232.71,518.15 233.60,518.30 234.51,518.27 235.44,518.10 236.32,517.38 237.10,515.70 237.26,515.14 237.42,514.55 237.57,513.91 237.72,513.24 237.85,512.52 237.99,511.76 238.12,510.95 238.24,510.10 238.37,509.19 238.49,508.24 238.61,507.23 238.72,506.17 238.84,505.05 238.95,503.88 239.07,502.65 239.18,501.35 239.30,500.00 239.36,499.29 239.42,498.53 239.47,497.74 239.53,496.92 239.59,496.06 239.64,495.18 239.70,494.27 239.75,493.33 239.81,492.37 239.86,491.39 239.91,490.40 239.96,489.39 240.02,488.37 240.07,487.34 240.12,486.30 240.17,485.26 240.23,484.21 240.28,483.17 240.33,482.13 240.38,481.09 240.43,480.07 240.48,479.05 240.53,478.05 240.58,477.06 240.63,476.09 240.68,475.14 240.74,474.22 240.79,473.32 240.84,472.45 240.89,471.61 240.94,470.80 240.99,470.03 241.05,469.29 241.10,468.60 241.21,467.22 241.32,465.92 241.43,464.71 241.54,463.57 241.65,462.51 241.76,461.51 241.87,460.58 241.98,459.71 242.09,458.90 242.20,458.13 242.32,457.40 242.43,456.72 242.54,456.07 242.66,455.46 242.78,454.87 242.90,454.30 243.34,452.58 243.75,451.65 244.26,451.15 245.00,450.70 245.73,450.37 246.55,450.10 247.50,449.94 248.63,450.14 250.00,449.79 250.72,449.97 251.51,449.82 252.37,449.60 253.27,449.75 254.21,449.45 255.17,449.60 256.15,449.38 257.14,449.37 258.11,449.55 259.07,449.79 260.00,449.51 260.93,449.67 261.88,450.02 262.84,450.35 263.82,450.36 264.79,450.49 265.75,451.01 266.68,450.80 267.58,451.47 268.44,451.45 269.25,451.65 270.00,451.91 271.05,452.44 271.98,453.14 272.82,453.29 273.58,453.99 274.30,454.55 275.00,455.00 275.70,455.72 276.39,456.15 277.03,456.83 277.64,457.62 278.23,458.64 278.81,459.36 279.40,460.25 280.00,461.44 280.36,462.05 280.71,462.68 281.07,463.66 281.43,464.38 281.78,464.95 282.14,465.94 282.49,466.77 282.85,467.83 283.21,468.66 283.57,469.37 283.93,470.67 284.30,471.21 284.60,472.17 284.89,473.21 285.20,473.81 285.50,474.92 285.81,475.65 286.11,476.95 286.42,477.98 286.73,478.87 287.03,480.00 287.34,480.68 287.64,481.80 287.94,482.65 288.23,483.49 288.52,484.24 288.80,485.17 289.27,486.34 289.73,487.09 290.18,488.09 290.63,488.61 291.07,489.70 291.50,490.43 291.91,491.35 292.31,492.04 292.70,492.59 293.07,493.51 293.43,494.55 293.78,495.14 294.11,496.26 294.43,497.01 294.74,497.86 295.04,498.66 295.33,499.81 295.60,500.21 296.00,501.42 296.29,502.46 296.58,503.59 296.95,504.06 297.50,505.17 298.06,505.98 298.74,506.97 299.51,507.79 300.29,508.63 301.06,509.07 301.74,509.74 302.30,510.13 303.19,510.31 304.20,509.73 304.94,509.35 305.84,509.43 306.86,509.57 307.92,509.71 308.99,510.00 310.00,510.24 310.97,510.28 311.94,510.36 312.91,510.81 313.87,511.07 314.84,511.51 315.80,512.13 316.62,512.44 317.43,512.88 318.24,513.51 319.06,514.14 319.87,514.44 320.68,515.45 321.50,515.94 322.33,516.49 323.16,516.95 324.00,517.22 324.84,517.69 325.68,518.01 326.50,518.72 327.30,518.88 328.27,519.42 329.30,520.06 330.31,520.59 331.24,521.18 332.03,521.47 332.60,521.75" fill="none" stroke="#be0a28" stroke-width="1.55" stroke-linejoin="round" />
<polyline points="221.70,502.90 222.28,504.26 223.10,505.00 223.46,504.76 223.85,504.44 224.25,503.73 224.64,502.35 225.00,500.00 225.06,499.42 225.12,498.79 225.18,498.09 225.24,497.34 225.30,496.55 225.35,495.71 225.41,494.82 225.46,493.91 225.52,492.96 225.57,491.99 225.63,490.99 225.68,489.98 225.73,488.95 225.78,487.91 225.83,486.87 225.88,485.83 225.93,484.80 225.98,483.77 226.03,482.76 226.08,481.77 226.13,480.80 226.17,479.85 226.22,478.94 226.26,478.07 226.31,477.23 226.36,476.44 226.40,475.70 226.48,474.44 226.55,473.22 226.61,472.05 226.67,470.93 226.73,469.85 226.79,468.81 226.84,467.82 226.90,466.88 226.95,465.97 227.01,465.11 227.08,464.29 227.15,463.50 227.22,462.76 227.31,462.06 227.40,461.40 227.67,459.74 227.95,458.54 228.27,457.67 228.71,457.00 229.30,456.40 230.04,455.93 230.90,455.68 231.89,455.56 233.02,455.58 234.30,455.57 235.05,455.54 235.81,455.59 236.59,455.40 237.41,455.49 238.30,454.84 239.27,455.11 240.35,455.41 241.55,455.16 242.90,455.28 243.61,454.70 244.38,454.91 245.20,454.71 246.07,454.88 246.97,454.85 247.91,454.41 248.88,454.51 249.86,454.50 250.86,454.90 251.86,454.74 252.86,454.27 253.86,454.68 254.83,454.17 255.79,454.47 256.72,454.10 257.61,453.99 258.46,454.58 259.26,454.10 260.00,454.10 261.19,454.65 262.29,454.59 263.32,454.22 264.28,454.75 265.19,454.51 266.05,454.68 266.88,454.43 267.67,455.03 268.45,454.94 269.23,455.23 270.00,455.28 271.03,454.99 271.98,455.15 272.87,455.14 273.72,455.27 274.56,455.38 275.39,455.74 276.23,456.19 277.10,456.05 278.01,456.85 278.93,456.98 279.86,457.36 280.79,458.15 281.71,458.39 282.60,458.77 283.47,459.42 284.30,460.14 285.08,460.28 285.83,461.54 286.55,461.52 287.24,462.71 287.93,463.50 288.61,463.68 289.30,465.04 290.00,465.61 290.52,466.43 291.06,466.76 291.59,467.56 292.13,468.45 292.67,469.82 293.20,470.12 293.73,471.34 294.25,472.29 294.75,473.10 295.23,473.45 295.70,474.20 296.25,475.19 296.79,476.24 297.31,476.63 297.82,477.92 298.30,478.77 298.77,479.60 299.21,479.76 299.62,481.09 300.00,481.11 300.68,482.38 301.17,483.36 301.66,484.32 302.30,484.89 302.77,486.01 303.29,486.53 303.84,487.21 304.42,488.08 305.01,488.86 305.61,489.66 306.20,490.55 306.78,491.78 307.37,492.87 307.96,493.16 308.57,493.94 309.19,495.42 309.83,495.86 310.50,496.43 311.35,496.99 312.28,497.83 313.24,498.50 314.17,498.68 315.04,499.03 315.80,499.09 316.84,499.89 317.61,499.21 318.70,499.90 319.38,500.61 320.15,500.77 320.99,501.96 321.87,502.91 322.76,503.40 323.61,504.08 324.40,503.92 325.44,504.11 326.45,503.46 327.42,503.33 328.34,502.39 329.20,502.27 330.23,502.90 331.20,503.38 332.02,504.10 332.60,504.17" fill="none" stroke="#223f85" stroke-width="1.55" stroke-linejoin="round" />
<line x1="245.70" y1="479.50" x2="280.80" y2="479.50" stroke="#be0a28" stroke-width="1.4" />
<polygon points="285.80,479.50 276.30,475.60 279.00,479.50 276.30,483.40" fill="#be0a28"/>
<line x1="229.70" y1="482.50" x2="295.50" y2="482.50" stroke="#223f85" stroke-width="1.4" />
<polygon points="300.50,482.50 291.00,478.60 293.70,482.50 291.00,486.40" fill="#223f85"/>
<line x1="236.90" y1="494.20" x2="296.70" y2="494.20" stroke="#5aaa32" stroke-width="1.4" />
<polygon points="301.70,494.20 292.20,490.30 294.90,494.20 292.20,498.10" fill="#5aaa32"/>
<line x1="238.30" y1="422.00" x2="251.10" y2="422.00" stroke="#223f85" stroke-width="1.6" />
<text x="254.60" y="425.00" font-size="8.0" text-anchor="start" fill="#1a1a1a" textLength="10.9" lengthAdjust="spacingAndGlyphs" >WT</text>
<line x1="279.00" y1="422.60" x2="291.40" y2="422.60" stroke="#be0a28" stroke-width="1.6" />
<text x="294.90" y="425.60" font-size="8.0" text-anchor="start" fill="#1a1a1a" textLength="11.2" lengthAdjust="spacingAndGlyphs" >FVIII</text>
<text x="306.40" y="422.30" font-size="5.0" text-anchor="start" fill="#1a1a1a" textLength="3.2" lengthAdjust="spacingAndGlyphs" >-/-</text>
<line x1="238.30" y1="434.40" x2="251.10" y2="434.40" stroke="#5aaa32" stroke-width="1.6" />
<text x="254.60" y="437.40" font-size="8.0" text-anchor="start" fill="#1a1a1a" textLength="51.9" lengthAdjust="spacingAndGlyphs" >WT-anti-FVIII Ab</text>
<rect x="0" y="0" width="520" height="1.6" fill="#454545"/>
<rect x="0" y="0" width="1.5" height="630" fill="#2a2a2a"/>
<rect x="518.7" y="0" width="1.3" height="630" fill="#0a0a0a"/>
<rect x="0" y="628.8" width="520" height="1.2" fill="#0a0a0a"/>
</svg></body></html>
